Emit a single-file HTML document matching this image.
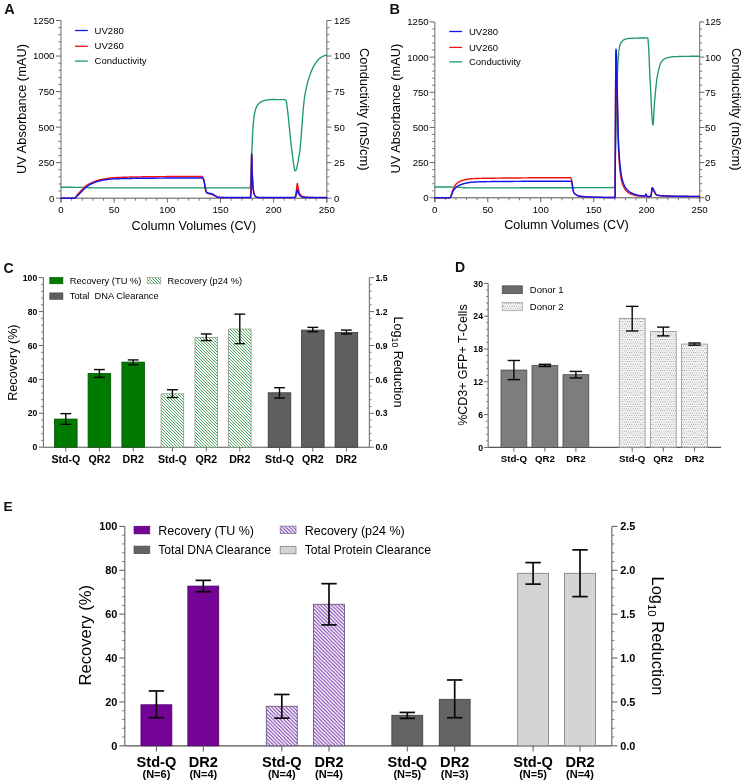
<!DOCTYPE html>
<html><head><meta charset="utf-8"><style>
html,body{margin:0;padding:0;background:#fff;}
svg{display:block;will-change:transform;}
text{font-family:"Liberation Sans", sans-serif;}
</style></head><body>
<svg width="743" height="782" viewBox="0 0 743 782">
<rect width="743" height="782" fill="#ffffff"/>
<defs>
<pattern id="hatchG" patternUnits="userSpaceOnUse" width="3" height="3">
<rect width="3" height="3" fill="#ffffff"/>
<path d="M-1,-1 L4,4 M-1,2 L1,4 M2,-1 L4,1" stroke="#4ea55e" stroke-width="1.0"/>
</pattern>
<pattern id="hatchP" patternUnits="userSpaceOnUse" width="3.6" height="3.6">
<rect width="3.6" height="3.6" fill="#ffffff"/>
<path d="M-1,-1 L4.6,4.6 M-1,2.6 L1,4.6 M2.6,-1 L4.6,1" stroke="#6c22aa" stroke-width="0.95"/>
</pattern>
<pattern id="dots" patternUnits="userSpaceOnUse" width="2.2" height="4.46">
<rect width="2.2" height="4.46" fill="#ffffff"/>
<circle cx="0.55" cy="0.55" r="0.55" fill="#6a6a6a"/>
<circle cx="1.65" cy="2.78" r="0.55" fill="#6a6a6a"/>
</pattern>
</defs>
<line x1="61" y1="20.5" x2="61" y2="202.6" stroke="#8c8c8c" stroke-width="1.3" stroke-linecap="butt"/>
<line x1="326.8" y1="20.5" x2="326.8" y2="202.6" stroke="#8c8c8c" stroke-width="1.3" stroke-linecap="butt"/>
<line x1="61" y1="198.2" x2="326.8" y2="198.2" stroke="#555" stroke-width="1" stroke-linecap="butt"/>
<line x1="56" y1="198.2" x2="61" y2="198.2" stroke="#666" stroke-width="1" stroke-linecap="butt"/>
<text x="54.4" y="201.65" font-size="9.65" text-anchor="end" fill="#000000">0</text>
<line x1="58.4" y1="191.09" x2="61" y2="191.09" stroke="#777" stroke-width="1" stroke-linecap="butt"/>
<line x1="58.4" y1="183.98" x2="61" y2="183.98" stroke="#777" stroke-width="1" stroke-linecap="butt"/>
<line x1="58.4" y1="176.88" x2="61" y2="176.88" stroke="#777" stroke-width="1" stroke-linecap="butt"/>
<line x1="58.4" y1="169.77" x2="61" y2="169.77" stroke="#777" stroke-width="1" stroke-linecap="butt"/>
<line x1="56" y1="162.66" x2="61" y2="162.66" stroke="#666" stroke-width="1" stroke-linecap="butt"/>
<text x="54.4" y="166.11" font-size="9.65" text-anchor="end" fill="#000000">250</text>
<line x1="58.4" y1="155.55" x2="61" y2="155.55" stroke="#777" stroke-width="1" stroke-linecap="butt"/>
<line x1="58.4" y1="148.44" x2="61" y2="148.44" stroke="#777" stroke-width="1" stroke-linecap="butt"/>
<line x1="58.4" y1="141.34" x2="61" y2="141.34" stroke="#777" stroke-width="1" stroke-linecap="butt"/>
<line x1="58.4" y1="134.23" x2="61" y2="134.23" stroke="#777" stroke-width="1" stroke-linecap="butt"/>
<line x1="56" y1="127.12" x2="61" y2="127.12" stroke="#666" stroke-width="1" stroke-linecap="butt"/>
<text x="54.4" y="130.57" font-size="9.65" text-anchor="end" fill="#000000">500</text>
<line x1="58.4" y1="120.01" x2="61" y2="120.01" stroke="#777" stroke-width="1" stroke-linecap="butt"/>
<line x1="58.4" y1="112.9" x2="61" y2="112.9" stroke="#777" stroke-width="1" stroke-linecap="butt"/>
<line x1="58.4" y1="105.8" x2="61" y2="105.8" stroke="#777" stroke-width="1" stroke-linecap="butt"/>
<line x1="58.4" y1="98.69" x2="61" y2="98.69" stroke="#777" stroke-width="1" stroke-linecap="butt"/>
<line x1="56" y1="91.58" x2="61" y2="91.58" stroke="#666" stroke-width="1" stroke-linecap="butt"/>
<text x="54.4" y="95.03" font-size="9.65" text-anchor="end" fill="#000000">750</text>
<line x1="58.4" y1="84.47" x2="61" y2="84.47" stroke="#777" stroke-width="1" stroke-linecap="butt"/>
<line x1="58.4" y1="77.36" x2="61" y2="77.36" stroke="#777" stroke-width="1" stroke-linecap="butt"/>
<line x1="58.4" y1="70.26" x2="61" y2="70.26" stroke="#777" stroke-width="1" stroke-linecap="butt"/>
<line x1="58.4" y1="63.15" x2="61" y2="63.15" stroke="#777" stroke-width="1" stroke-linecap="butt"/>
<line x1="56" y1="56.04" x2="61" y2="56.04" stroke="#666" stroke-width="1" stroke-linecap="butt"/>
<text x="54.4" y="59.49" font-size="9.65" text-anchor="end" fill="#000000">1000</text>
<line x1="58.4" y1="48.93" x2="61" y2="48.93" stroke="#777" stroke-width="1" stroke-linecap="butt"/>
<line x1="58.4" y1="41.82" x2="61" y2="41.82" stroke="#777" stroke-width="1" stroke-linecap="butt"/>
<line x1="58.4" y1="34.72" x2="61" y2="34.72" stroke="#777" stroke-width="1" stroke-linecap="butt"/>
<line x1="58.4" y1="27.61" x2="61" y2="27.61" stroke="#777" stroke-width="1" stroke-linecap="butt"/>
<line x1="56" y1="20.5" x2="61" y2="20.5" stroke="#666" stroke-width="1" stroke-linecap="butt"/>
<text x="54.4" y="23.95" font-size="9.65" text-anchor="end" fill="#000000">1250</text>
<line x1="326.8" y1="198.2" x2="331.5" y2="198.2" stroke="#666" stroke-width="1" stroke-linecap="butt"/>
<text x="334.1" y="201.65" font-size="9.65" text-anchor="start" fill="#000000">0</text>
<line x1="326.8" y1="191.09" x2="329.4" y2="191.09" stroke="#777" stroke-width="1" stroke-linecap="butt"/>
<line x1="326.8" y1="183.98" x2="329.4" y2="183.98" stroke="#777" stroke-width="1" stroke-linecap="butt"/>
<line x1="326.8" y1="176.88" x2="329.4" y2="176.88" stroke="#777" stroke-width="1" stroke-linecap="butt"/>
<line x1="326.8" y1="169.77" x2="329.4" y2="169.77" stroke="#777" stroke-width="1" stroke-linecap="butt"/>
<line x1="326.8" y1="162.66" x2="331.5" y2="162.66" stroke="#666" stroke-width="1" stroke-linecap="butt"/>
<text x="334.1" y="166.11" font-size="9.65" text-anchor="start" fill="#000000">25</text>
<line x1="326.8" y1="155.55" x2="329.4" y2="155.55" stroke="#777" stroke-width="1" stroke-linecap="butt"/>
<line x1="326.8" y1="148.44" x2="329.4" y2="148.44" stroke="#777" stroke-width="1" stroke-linecap="butt"/>
<line x1="326.8" y1="141.34" x2="329.4" y2="141.34" stroke="#777" stroke-width="1" stroke-linecap="butt"/>
<line x1="326.8" y1="134.23" x2="329.4" y2="134.23" stroke="#777" stroke-width="1" stroke-linecap="butt"/>
<line x1="326.8" y1="127.12" x2="331.5" y2="127.12" stroke="#666" stroke-width="1" stroke-linecap="butt"/>
<text x="334.1" y="130.57" font-size="9.65" text-anchor="start" fill="#000000">50</text>
<line x1="326.8" y1="120.01" x2="329.4" y2="120.01" stroke="#777" stroke-width="1" stroke-linecap="butt"/>
<line x1="326.8" y1="112.9" x2="329.4" y2="112.9" stroke="#777" stroke-width="1" stroke-linecap="butt"/>
<line x1="326.8" y1="105.8" x2="329.4" y2="105.8" stroke="#777" stroke-width="1" stroke-linecap="butt"/>
<line x1="326.8" y1="98.69" x2="329.4" y2="98.69" stroke="#777" stroke-width="1" stroke-linecap="butt"/>
<line x1="326.8" y1="91.58" x2="331.5" y2="91.58" stroke="#666" stroke-width="1" stroke-linecap="butt"/>
<text x="334.1" y="95.03" font-size="9.65" text-anchor="start" fill="#000000">75</text>
<line x1="326.8" y1="84.47" x2="329.4" y2="84.47" stroke="#777" stroke-width="1" stroke-linecap="butt"/>
<line x1="326.8" y1="77.36" x2="329.4" y2="77.36" stroke="#777" stroke-width="1" stroke-linecap="butt"/>
<line x1="326.8" y1="70.26" x2="329.4" y2="70.26" stroke="#777" stroke-width="1" stroke-linecap="butt"/>
<line x1="326.8" y1="63.15" x2="329.4" y2="63.15" stroke="#777" stroke-width="1" stroke-linecap="butt"/>
<line x1="326.8" y1="56.04" x2="331.5" y2="56.04" stroke="#666" stroke-width="1" stroke-linecap="butt"/>
<text x="334.1" y="59.49" font-size="9.65" text-anchor="start" fill="#000000">100</text>
<line x1="326.8" y1="48.93" x2="329.4" y2="48.93" stroke="#777" stroke-width="1" stroke-linecap="butt"/>
<line x1="326.8" y1="41.82" x2="329.4" y2="41.82" stroke="#777" stroke-width="1" stroke-linecap="butt"/>
<line x1="326.8" y1="34.72" x2="329.4" y2="34.72" stroke="#777" stroke-width="1" stroke-linecap="butt"/>
<line x1="326.8" y1="27.61" x2="329.4" y2="27.61" stroke="#777" stroke-width="1" stroke-linecap="butt"/>
<line x1="326.8" y1="20.5" x2="331.5" y2="20.5" stroke="#666" stroke-width="1" stroke-linecap="butt"/>
<text x="334.1" y="23.95" font-size="9.65" text-anchor="start" fill="#000000">125</text>
<line x1="61" y1="198.2" x2="61" y2="202.6" stroke="#666" stroke-width="1" stroke-linecap="butt"/>
<text x="61" y="213.2" font-size="9.65" text-anchor="middle" fill="#000000">0</text>
<line x1="71.63" y1="198.2" x2="71.63" y2="200.7" stroke="#777" stroke-width="1" stroke-linecap="butt"/>
<line x1="82.26" y1="198.2" x2="82.26" y2="200.7" stroke="#777" stroke-width="1" stroke-linecap="butt"/>
<line x1="92.9" y1="198.2" x2="92.9" y2="200.7" stroke="#777" stroke-width="1" stroke-linecap="butt"/>
<line x1="103.53" y1="198.2" x2="103.53" y2="200.7" stroke="#777" stroke-width="1" stroke-linecap="butt"/>
<line x1="114.16" y1="198.2" x2="114.16" y2="202.6" stroke="#666" stroke-width="1" stroke-linecap="butt"/>
<text x="114.16" y="213.2" font-size="9.65" text-anchor="middle" fill="#000000">50</text>
<line x1="124.79" y1="198.2" x2="124.79" y2="200.7" stroke="#777" stroke-width="1" stroke-linecap="butt"/>
<line x1="135.42" y1="198.2" x2="135.42" y2="200.7" stroke="#777" stroke-width="1" stroke-linecap="butt"/>
<line x1="146.06" y1="198.2" x2="146.06" y2="200.7" stroke="#777" stroke-width="1" stroke-linecap="butt"/>
<line x1="156.69" y1="198.2" x2="156.69" y2="200.7" stroke="#777" stroke-width="1" stroke-linecap="butt"/>
<line x1="167.32" y1="198.2" x2="167.32" y2="202.6" stroke="#666" stroke-width="1" stroke-linecap="butt"/>
<text x="167.32" y="213.2" font-size="9.65" text-anchor="middle" fill="#000000">100</text>
<line x1="177.95" y1="198.2" x2="177.95" y2="200.7" stroke="#777" stroke-width="1" stroke-linecap="butt"/>
<line x1="188.58" y1="198.2" x2="188.58" y2="200.7" stroke="#777" stroke-width="1" stroke-linecap="butt"/>
<line x1="199.22" y1="198.2" x2="199.22" y2="200.7" stroke="#777" stroke-width="1" stroke-linecap="butt"/>
<line x1="209.85" y1="198.2" x2="209.85" y2="200.7" stroke="#777" stroke-width="1" stroke-linecap="butt"/>
<line x1="220.48" y1="198.2" x2="220.48" y2="202.6" stroke="#666" stroke-width="1" stroke-linecap="butt"/>
<text x="220.48" y="213.2" font-size="9.65" text-anchor="middle" fill="#000000">150</text>
<line x1="231.11" y1="198.2" x2="231.11" y2="200.7" stroke="#777" stroke-width="1" stroke-linecap="butt"/>
<line x1="241.74" y1="198.2" x2="241.74" y2="200.7" stroke="#777" stroke-width="1" stroke-linecap="butt"/>
<line x1="252.38" y1="198.2" x2="252.38" y2="200.7" stroke="#777" stroke-width="1" stroke-linecap="butt"/>
<line x1="263.01" y1="198.2" x2="263.01" y2="200.7" stroke="#777" stroke-width="1" stroke-linecap="butt"/>
<line x1="273.64" y1="198.2" x2="273.64" y2="202.6" stroke="#666" stroke-width="1" stroke-linecap="butt"/>
<text x="273.64" y="213.2" font-size="9.65" text-anchor="middle" fill="#000000">200</text>
<line x1="284.27" y1="198.2" x2="284.27" y2="200.7" stroke="#777" stroke-width="1" stroke-linecap="butt"/>
<line x1="294.9" y1="198.2" x2="294.9" y2="200.7" stroke="#777" stroke-width="1" stroke-linecap="butt"/>
<line x1="305.54" y1="198.2" x2="305.54" y2="200.7" stroke="#777" stroke-width="1" stroke-linecap="butt"/>
<line x1="316.17" y1="198.2" x2="316.17" y2="200.7" stroke="#777" stroke-width="1" stroke-linecap="butt"/>
<line x1="326.8" y1="198.2" x2="326.8" y2="202.6" stroke="#666" stroke-width="1" stroke-linecap="butt"/>
<text x="326.8" y="213.2" font-size="9.65" text-anchor="middle" fill="#000000">250</text>
<polyline points="61,187.25 61.27,187.25 61.53,187.25 61.8,187.25 62.06,187.25 62.33,187.25 62.59,187.25 62.86,187.25 63.13,187.26 63.39,187.26 63.66,187.26 63.92,187.26 64.19,187.26 64.46,187.26 64.72,187.26 64.99,187.26 65.25,187.26 65.52,187.26 65.78,187.26 66.05,187.26 66.32,187.26 66.58,187.26 66.85,187.27 67.11,187.27 67.38,187.27 67.64,187.27 67.91,187.27 68.18,187.27 68.44,187.27 68.71,187.27 68.97,187.28 69.24,187.28 69.51,187.28 69.77,187.28 70.04,187.28 70.3,187.28 70.57,187.28 70.83,187.29 71.1,187.29 71.37,187.29 71.63,187.29 71.9,187.29 72.16,187.3 72.43,187.3 72.7,187.3 72.96,187.3 73.23,187.3 73.49,187.31 73.76,187.31 74.02,187.31 74.29,187.31 74.56,187.31 74.82,187.32 75.09,187.32 75.35,187.32 75.62,187.32 75.88,187.33 76.15,187.33 76.42,187.33 76.68,187.33 76.95,187.34 77.21,187.34 77.48,187.34 77.75,187.34 78.01,187.35 78.28,187.35 78.54,187.35 78.81,187.36 79.07,187.36 79.34,187.36 79.61,187.36 79.87,187.37 80.14,187.37 80.4,187.37 80.67,187.38 80.94,187.38 81.2,187.38 81.47,187.39 81.73,187.39 82,187.39 82.26,187.4 82.53,187.4 82.8,187.4 83.06,187.41 83.33,187.42 83.59,187.43 83.86,187.44 84.12,187.45 84.39,187.46 84.66,187.47 84.92,187.48 85.19,187.49 85.45,187.51 85.72,187.52 85.99,187.54 86.25,187.55 86.52,187.57 86.78,187.58 87.05,187.6 87.31,187.61 87.58,187.63 87.85,187.64 88.11,187.66 88.38,187.67 88.64,187.68 88.91,187.7 89.17,187.71 89.44,187.73 89.71,187.74 89.97,187.75 90.24,187.76 90.5,187.77 90.77,187.78 91.04,187.79 91.3,187.8 91.57,187.81 91.83,187.81 92.1,187.82 92.36,187.82 92.63,187.82 92.9,187.82 93.16,187.82 93.43,187.82 93.69,187.82 93.96,187.82 94.22,187.82 94.49,187.82 94.76,187.82 95.02,187.82 95.29,187.82 95.55,187.82 95.82,187.82 96.09,187.82 96.35,187.82 96.62,187.82 96.88,187.82 97.15,187.82 97.41,187.82 97.68,187.82 97.95,187.82 98.21,187.82 98.48,187.82 98.74,187.82 99.01,187.82 99.28,187.82 99.54,187.82 99.81,187.82 100.07,187.82 100.34,187.82 100.6,187.82 100.87,187.82 101.14,187.82 101.4,187.82 101.67,187.82 101.93,187.82 102.2,187.82 102.46,187.82 102.73,187.82 103,187.82 103.26,187.82 103.53,187.82 103.79,187.82 104.06,187.82 104.33,187.82 104.59,187.82 104.86,187.82 105.12,187.82 105.39,187.82 105.65,187.82 105.92,187.82 106.19,187.82 106.45,187.82 106.72,187.82 106.98,187.82 107.25,187.82 107.52,187.82 107.78,187.82 108.05,187.82 108.31,187.82 108.58,187.82 108.84,187.82 109.11,187.82 109.38,187.82 109.64,187.82 109.91,187.82 110.17,187.82 110.44,187.82 110.7,187.82 110.97,187.82 111.24,187.82 111.5,187.82 111.77,187.82 112.03,187.82 112.3,187.82 112.57,187.82 112.83,187.82 113.1,187.82 113.36,187.82 113.63,187.82 113.89,187.82 114.16,187.82 114.43,187.82 114.69,187.82 114.96,187.82 115.22,187.82 115.49,187.82 115.75,187.82 116.02,187.82 116.29,187.82 116.55,187.82 116.82,187.82 117.08,187.82 117.35,187.82 117.62,187.82 117.88,187.82 118.15,187.82 118.41,187.82 118.68,187.82 118.94,187.82 119.21,187.82 119.48,187.82 119.74,187.82 120.01,187.82 120.27,187.82 120.54,187.82 120.81,187.82 121.07,187.82 121.34,187.82 121.6,187.82 121.87,187.82 122.13,187.82 122.4,187.82 122.67,187.82 122.93,187.82 123.2,187.82 123.46,187.82 123.73,187.82 123.99,187.82 124.26,187.82 124.53,187.82 124.79,187.82 125.06,187.82 125.32,187.82 125.59,187.82 125.86,187.82 126.12,187.82 126.39,187.82 126.65,187.82 126.92,187.82 127.18,187.82 127.45,187.82 127.72,187.82 127.98,187.82 128.25,187.82 128.51,187.82 128.78,187.82 129.04,187.82 129.31,187.82 129.58,187.82 129.84,187.82 130.11,187.82 130.37,187.82 130.64,187.82 130.91,187.82 131.17,187.82 131.44,187.82 131.7,187.82 131.97,187.82 132.23,187.82 132.5,187.82 132.77,187.82 133.03,187.82 133.3,187.82 133.56,187.82 133.83,187.82 134.1,187.82 134.36,187.82 134.63,187.82 134.89,187.82 135.16,187.82 135.42,187.82 135.69,187.82 135.96,187.82 136.22,187.82 136.49,187.82 136.75,187.82 137.02,187.82 137.28,187.82 137.55,187.82 137.82,187.82 138.08,187.82 138.35,187.82 138.61,187.82 138.88,187.82 139.15,187.82 139.41,187.82 139.68,187.82 139.94,187.82 140.21,187.82 140.47,187.82 140.74,187.82 141.01,187.82 141.27,187.82 141.54,187.82 141.8,187.82 142.07,187.82 142.33,187.82 142.6,187.82 142.87,187.82 143.13,187.82 143.4,187.82 143.66,187.82 143.93,187.82 144.2,187.82 144.46,187.82 144.73,187.82 144.99,187.82 145.26,187.82 145.52,187.82 145.79,187.82 146.06,187.82 146.32,187.82 146.59,187.82 146.85,187.82 147.12,187.82 147.38,187.82 147.65,187.82 147.92,187.82 148.18,187.82 148.45,187.82 148.71,187.82 148.98,187.82 149.25,187.82 149.51,187.82 149.78,187.82 150.04,187.82 150.31,187.82 150.57,187.82 150.84,187.82 151.11,187.82 151.37,187.82 151.64,187.82 151.9,187.82 152.17,187.82 152.44,187.82 152.7,187.82 152.97,187.82 153.23,187.82 153.5,187.82 153.76,187.82 154.03,187.82 154.3,187.82 154.56,187.82 154.83,187.82 155.09,187.82 155.36,187.82 155.62,187.82 155.89,187.82 156.16,187.82 156.42,187.82 156.69,187.82 156.95,187.82 157.22,187.82 157.49,187.82 157.75,187.82 158.02,187.82 158.28,187.82 158.55,187.82 158.81,187.82 159.08,187.82 159.35,187.82 159.61,187.82 159.88,187.82 160.14,187.82 160.41,187.82 160.68,187.82 160.94,187.82 161.21,187.82 161.47,187.82 161.74,187.82 162,187.82 162.27,187.82 162.54,187.82 162.8,187.82 163.07,187.82 163.33,187.82 163.6,187.82 163.86,187.82 164.13,187.82 164.4,187.82 164.66,187.82 164.93,187.82 165.19,187.82 165.46,187.82 165.73,187.82 165.99,187.82 166.26,187.82 166.52,187.82 166.79,187.82 167.05,187.82 167.32,187.82 167.59,187.82 167.85,187.82 168.12,187.82 168.38,187.82 168.65,187.82 168.91,187.82 169.18,187.82 169.45,187.82 169.71,187.82 169.98,187.82 170.24,187.82 170.51,187.82 170.78,187.82 171.04,187.82 171.31,187.82 171.57,187.82 171.84,187.82 172.1,187.82 172.37,187.82 172.64,187.82 172.9,187.82 173.17,187.82 173.43,187.82 173.7,187.82 173.97,187.82 174.23,187.82 174.5,187.82 174.76,187.82 175.03,187.82 175.29,187.82 175.56,187.82 175.83,187.82 176.09,187.82 176.36,187.82 176.62,187.82 176.89,187.82 177.15,187.82 177.42,187.82 177.69,187.82 177.95,187.82 178.22,187.82 178.48,187.82 178.75,187.82 179.02,187.82 179.28,187.82 179.55,187.82 179.81,187.82 180.08,187.82 180.34,187.82 180.61,187.82 180.88,187.82 181.14,187.82 181.41,187.82 181.67,187.82 181.94,187.82 182.2,187.82 182.47,187.82 182.74,187.82 183,187.82 183.27,187.82 183.53,187.82 183.8,187.82 184.07,187.82 184.33,187.82 184.6,187.82 184.86,187.82 185.13,187.82 185.39,187.82 185.66,187.82 185.93,187.82 186.19,187.82 186.46,187.82 186.72,187.82 186.99,187.82 187.26,187.82 187.52,187.82 187.79,187.82 188.05,187.82 188.32,187.82 188.58,187.82 188.85,187.82 189.12,187.82 189.38,187.82 189.65,187.82 189.91,187.82 190.18,187.82 190.44,187.82 190.71,187.82 190.98,187.82 191.24,187.82 191.51,187.82 191.77,187.82 192.04,187.82 192.31,187.82 192.57,187.82 192.84,187.82 193.1,187.82 193.37,187.82 193.63,187.82 193.9,187.82 194.17,187.82 194.43,187.82 194.7,187.82 194.96,187.82 195.23,187.82 195.49,187.82 195.76,187.82 196.03,187.82 196.29,187.82 196.56,187.82 196.82,187.82 197.09,187.82 197.36,187.82 197.62,187.82 197.89,187.82 198.15,187.82 198.42,187.82 198.68,187.82 198.95,187.82 199.22,187.82 199.48,187.82 199.75,187.82 200.01,187.82 200.28,187.82 200.55,187.82 200.81,187.82 201.08,187.82 201.34,187.82 201.61,187.82 201.87,187.82 202.14,187.82 202.41,187.82 202.67,187.82 202.94,187.82 203.2,187.82 203.47,187.82 203.73,187.82 204,187.82 204.27,187.82 204.53,187.82 204.8,187.82 205.06,187.82 205.33,187.82 205.6,187.82 205.86,187.82 206.13,187.82 206.39,187.82 206.66,187.82 206.92,187.82 207.19,187.82 207.46,187.82 207.72,187.82 207.99,187.82 208.25,187.82 208.52,187.82 208.78,187.82 209.05,187.82 209.32,187.82 209.58,187.82 209.85,187.82 210.11,187.82 210.38,187.82 210.65,187.82 210.91,187.82 211.18,187.82 211.44,187.82 211.71,187.82 211.97,187.82 212.24,187.82 212.51,187.82 212.77,187.82 213.04,187.82 213.3,187.82 213.57,187.82 213.84,187.82 214.1,187.82 214.37,187.82 214.63,187.82 214.9,187.82 215.16,187.82 215.43,187.82 215.7,187.82 215.96,187.82 216.23,187.82 216.49,187.82 216.76,187.82 217.02,187.82 217.29,187.82 217.56,187.82 217.82,187.82 218.09,187.82 218.35,187.82 218.62,187.82 218.89,187.82 219.15,187.82 219.42,187.82 219.68,187.82 219.95,187.82 220.21,187.82 220.48,187.82 220.75,187.82 221.01,187.82 221.28,187.82 221.54,187.82 221.81,187.82 222.07,187.82 222.34,187.82 222.61,187.82 222.87,187.82 223.14,187.82 223.4,187.82 223.67,187.82 223.94,187.82 224.2,187.82 224.47,187.82 224.73,187.82 225,187.82 225.26,187.82 225.53,187.82 225.8,187.82 226.06,187.82 226.33,187.82 226.59,187.82 226.86,187.82 227.13,187.82 227.39,187.82 227.66,187.82 227.92,187.82 228.19,187.82 228.45,187.82 228.72,187.82 228.99,187.82 229.25,187.82 229.52,187.82 229.78,187.82 230.05,187.82 230.31,187.82 230.58,187.82 230.85,187.82 231.11,187.82 231.38,187.82 231.64,187.82 231.91,187.82 232.18,187.82 232.44,187.82 232.71,187.82 232.97,187.82 233.24,187.82 233.5,187.82 233.77,187.82 234.04,187.82 234.3,187.82 234.57,187.82 234.83,187.82 235.1,187.82 235.36,187.82 235.63,187.82 235.9,187.82 236.16,187.82 236.43,187.82 236.69,187.82 236.96,187.82 237.23,187.82 237.49,187.82 237.76,187.82 238.02,187.82 238.29,187.82 238.55,187.82 238.82,187.82 239.09,187.82 239.35,187.82 239.62,187.82 239.88,187.82 240.15,187.82 240.42,187.82 240.68,187.82 240.95,187.82 241.21,187.82 241.48,187.82 241.74,187.82 242.01,187.82 242.28,187.82 242.54,187.82 242.81,187.82 243.07,187.82 243.34,187.82 243.6,187.82 243.87,187.82 244.14,187.82 244.4,187.82 244.67,187.82 244.93,187.82 245.2,187.82 245.47,187.82 245.73,187.82 246,187.82 246.26,187.82 246.53,187.82 246.79,187.82 247.06,187.82 247.33,187.82 247.59,187.82 247.86,187.82 248.12,187.82 248.39,187.82 248.65,187.82 248.92,187.82 249.19,187.82 249.45,187.82 249.72,187.82 249.98,187.82 250.04,187.82 250.25,187.07 250.52,184.53 250.78,181.14 251.05,175.82 251.31,167.93 251.58,159.13 251.84,151.08 251.95,148.44 252.11,144.83 252.38,138.94 252.64,133.45 252.91,128.67 253.17,124.89 253.23,124.28 253.44,122.04 253.71,119.53 253.97,117.35 254.24,115.48 254.5,113.92 254.72,112.9 254.77,112.68 255.03,111.58 255.3,110.55 255.57,109.6 255.83,108.72 256.1,107.92 256.36,107.2 256.63,106.56 256.89,106.01 257.16,105.54 257.43,105.15 257.48,105.09 257.69,104.83 257.96,104.52 258.22,104.23 258.49,103.95 258.76,103.68 259.02,103.43 259.29,103.19 259.55,102.96 259.82,102.74 260.08,102.54 260.35,102.34 260.62,102.16 260.88,101.99 261.15,101.82 261.41,101.67 261.68,101.53 261.94,101.4 262.21,101.28 262.48,101.17 262.74,101.07 263.01,100.98 263.27,100.89 263.54,100.82 263.81,100.75 264.07,100.68 264.34,100.61 264.6,100.55 264.87,100.48 265.13,100.42 265.4,100.36 265.67,100.3 265.93,100.24 266.2,100.18 266.46,100.13 266.73,100.08 267,100.02 267.26,99.98 267.53,99.93 267.79,99.88 268.06,99.84 268.32,99.8 268.59,99.76 268.86,99.73 269.12,99.7 269.39,99.67 269.65,99.64 269.92,99.62 270.18,99.6 270.45,99.58 270.72,99.57 270.98,99.55 271.25,99.55 271.51,99.54 271.73,99.54 271.78,99.54 272.05,99.54 272.31,99.54 272.58,99.54 272.84,99.54 273.11,99.54 273.37,99.54 273.64,99.54 273.91,99.54 274.17,99.54 274.44,99.54 274.7,99.54 274.97,99.54 275.23,99.55 275.5,99.55 275.77,99.55 276.03,99.55 276.3,99.55 276.56,99.55 276.83,99.55 277.1,99.55 277.36,99.56 277.63,99.56 277.89,99.56 278.16,99.56 278.42,99.56 278.69,99.57 278.96,99.57 279.22,99.57 279.49,99.57 279.75,99.58 280.02,99.58 280.29,99.58 280.55,99.59 280.82,99.59 281.08,99.6 281.35,99.6 281.61,99.61 281.88,99.61 282.15,99.61 282.41,99.62 282.68,99.63 282.94,99.63 283.21,99.64 283.47,99.64 283.74,99.65 284.01,99.66 284.27,99.66 284.54,99.67 284.8,99.68 285.02,99.68 285.07,99.69 285.34,99.79 285.6,100 285.87,100.32 286.13,100.73 286.19,100.82 286.4,101.54 286.66,103.21 286.93,105.34 287.2,107.52 287.25,107.93 287.46,109.57 287.73,111.74 287.99,114.05 288.26,116.46 288.52,118.96 288.79,121.53 289.06,124.15 289.32,126.82 289.59,129.5 289.85,132.18 290.12,134.85 290.39,137.48 290.65,140.06 290.92,142.57 291.18,144.99 291.45,147.31 291.71,149.5 291.98,151.55 292.14,152.71 292.25,153.47 292.51,155.47 292.78,157.56 293.04,159.67 293.31,161.76 293.58,163.76 293.84,165.63 294.11,167.3 294.37,168.71 294.64,169.82 294.9,170.57 295.17,170.9 295.22,170.91 295.44,170.84 295.7,170.57 295.97,170.12 296.23,169.49 296.5,168.7 296.76,167.77 297.03,166.71 297.3,165.54 297.56,164.26 297.83,162.91 298.09,161.48 298.36,160 298.63,158.48 298.89,156.93 299.16,155.37 299.37,154.13 299.42,153.81 299.69,151.99 299.95,149.8 300.22,147.29 300.49,144.5 300.75,141.47 301.02,138.25 301.28,134.88 301.55,131.39 301.81,127.85 302.08,124.27 302.35,120.71 302.61,117.22 302.88,113.82 303.14,110.57 303.41,107.51 303.68,104.68 303.94,102.12 304.21,99.87 304.47,97.98 304.74,96.32 305,94.73 305.27,93.21 305.54,91.75 305.8,90.36 306.07,89.04 306.33,87.77 306.6,86.56 306.87,85.4 307.13,84.29 307.4,83.23 307.66,82.22 307.93,81.26 308.19,80.33 308.46,79.44 308.62,78.93 308.73,78.59 308.99,77.76 309.26,76.95 309.52,76.16 309.79,75.38 310.05,74.63 310.32,73.89 310.59,73.18 310.85,72.48 311.12,71.81 311.38,71.15 311.65,70.51 311.92,69.89 312.18,69.29 312.45,68.71 312.71,68.14 312.98,67.6 313.24,67.07 313.51,66.57 313.78,66.08 314.04,65.61 314.31,65.17 314.57,64.74 314.68,64.57 314.84,64.32 315.1,63.92 315.37,63.52 315.64,63.12 315.9,62.73 316.17,62.35 316.43,61.98 316.7,61.62 316.97,61.26 317.23,60.92 317.5,60.58 317.76,60.26 318.03,59.95 318.29,59.65 318.56,59.36 318.83,59.08 319.09,58.82 319.36,58.57 319.62,58.34 319.89,58.12 320.16,57.91 320.42,57.73 320.69,57.56 320.85,57.46 320.95,57.4 321.22,57.25 321.48,57.1 321.75,56.95 322.02,56.8 322.28,56.66 322.55,56.52 322.81,56.38 323.08,56.24 323.34,56.12 323.61,55.99 323.88,55.88 324.14,55.77 324.41,55.67 324.67,55.57 324.94,55.49 325.21,55.41 325.47,55.35 325.74,55.29 326,55.25 326.27,55.21 326.53,55.19 326.8,55.19" fill="none" stroke="#1e9a6c" stroke-width="1.35" stroke-linejoin="round" stroke-linecap="round"/>
<polyline points="61,198.2 61.27,198.2 61.53,198.2 61.8,198.2 62.06,198.2 62.33,198.2 62.59,198.2 62.86,198.2 63.13,198.2 63.39,198.2 63.66,198.2 63.92,198.2 64.19,198.2 64.46,198.2 64.72,198.2 64.99,198.2 65.25,198.2 65.52,198.2 65.78,198.2 66.05,198.2 66.32,198.2 66.58,198.2 66.85,198.2 67.11,198.2 67.38,198.2 67.64,198.2 67.91,198.2 68.18,198.2 68.44,198.2 68.71,198.2 68.97,198.2 69.24,198.2 69.51,198.2 69.77,198.2 70.04,198.2 70.3,198.2 70.57,198.2 70.83,198.2 71.1,198.2 71.37,198.2 71.63,198.2 71.9,198.2 72.16,198.2 72.43,198.2 72.7,198.2 72.96,198.2 73.23,198.2 73.49,198.2 73.76,198.2 74.02,198.16 74.29,198.05 74.56,197.9 74.82,197.72 75.09,197.53 75.14,197.49 75.35,197.32 75.62,197.05 75.88,196.74 76.15,196.4 76.42,196.04 76.68,195.68 76.95,195.32 77.21,194.99 77.27,194.93 77.48,194.68 77.75,194.38 78.01,194.07 78.28,193.77 78.54,193.47 78.81,193.17 79.07,192.87 79.34,192.57 79.61,192.27 79.87,191.98 80.14,191.69 80.4,191.41 80.67,191.12 80.94,190.84 81.2,190.57 81.47,190.29 81.52,190.24 81.73,190.02 82,189.75 82.26,189.47 82.53,189.2 82.8,188.93 83.06,188.65 83.33,188.38 83.59,188.11 83.86,187.84 84.12,187.58 84.39,187.33 84.66,187.08 84.92,186.83 85.19,186.59 85.45,186.37 85.72,186.15 85.99,185.94 86.25,185.74 86.52,185.55 86.78,185.37 87.05,185.19 87.31,185.02 87.58,184.86 87.85,184.7 88.11,184.54 88.38,184.39 88.64,184.24 88.91,184.09 89.17,183.95 89.44,183.81 89.71,183.67 89.97,183.54 90.24,183.41 90.5,183.28 90.77,183.15 91.04,183.03 91.3,182.9 91.57,182.78 91.83,182.66 92.1,182.54 92.36,182.42 92.63,182.3 92.9,182.19 93.16,182.07 93.43,181.95 93.69,181.84 93.96,181.73 94.22,181.62 94.49,181.51 94.76,181.41 95.02,181.3 95.29,181.2 95.55,181.1 95.82,181.01 96.09,180.91 96.35,180.82 96.62,180.74 96.88,180.65 97.15,180.57 97.41,180.49 97.68,180.42 97.95,180.34 98.21,180.27 98.48,180.19 98.74,180.12 99.01,180.05 99.28,179.98 99.54,179.91 99.81,179.85 100.07,179.78 100.34,179.72 100.6,179.66 100.87,179.6 101.14,179.54 101.4,179.48 101.67,179.43 101.93,179.37 102.2,179.32 102.46,179.27 102.73,179.22 103,179.17 103.1,179.15 103.26,179.12 103.53,179.08 103.79,179.03 104.06,178.98 104.33,178.94 104.59,178.89 104.86,178.85 105.12,178.8 105.39,178.76 105.65,178.71 105.92,178.67 106.19,178.63 106.45,178.59 106.72,178.54 106.98,178.5 107.25,178.46 107.52,178.42 107.78,178.38 108.05,178.34 108.31,178.3 108.58,178.27 108.84,178.23 109.11,178.19 109.38,178.16 109.64,178.13 109.91,178.09 110.17,178.06 110.44,178.03 110.7,178 110.97,177.97 111.24,177.94 111.5,177.91 111.77,177.89 112.03,177.86 112.3,177.84 112.57,177.82 112.83,177.8 113.1,177.78 113.36,177.76 113.63,177.74 113.84,177.73 113.89,177.73 114.16,177.71 114.43,177.7 114.69,177.68 114.96,177.67 115.22,177.65 115.49,177.64 115.75,177.62 116.02,177.61 116.29,177.6 116.55,177.58 116.82,177.57 117.08,177.55 117.35,177.54 117.62,177.53 117.88,177.52 118.15,177.5 118.41,177.49 118.68,177.48 118.94,177.47 119.21,177.45 119.48,177.44 119.74,177.43 120.01,177.42 120.27,177.41 120.54,177.4 120.81,177.38 121.07,177.37 121.34,177.36 121.6,177.35 121.87,177.34 122.13,177.33 122.4,177.32 122.67,177.31 122.93,177.3 123.2,177.29 123.46,177.28 123.73,177.27 123.99,177.26 124.26,177.25 124.53,177.24 124.79,177.23 125.06,177.22 125.32,177.21 125.59,177.2 125.86,177.2 126.12,177.19 126.39,177.18 126.65,177.17 126.92,177.16 127.18,177.15 127.45,177.15 127.72,177.14 127.98,177.13 128.25,177.12 128.51,177.12 128.78,177.11 129.04,177.1 129.31,177.09 129.58,177.09 129.84,177.08 130.11,177.07 130.37,177.06 130.64,177.06 130.91,177.05 131.17,177.04 131.44,177.04 131.7,177.03 131.97,177.03 132.23,177.02 132.5,177.01 132.77,177.01 133.03,177 133.3,177 133.56,176.99 133.83,176.98 134.1,176.98 134.36,176.97 134.63,176.97 134.89,176.96 135.16,176.96 135.42,176.95 135.69,176.95 135.96,176.94 136.22,176.94 136.49,176.93 136.75,176.93 137.02,176.92 137.28,176.92 137.55,176.91 137.82,176.91 138.08,176.9 138.35,176.9 138.61,176.89 138.88,176.89 139.15,176.88 139.41,176.88 139.68,176.88 139.94,176.87 140.21,176.87 140.47,176.86 140.74,176.86 141.01,176.86 141.27,176.85 141.54,176.85 141.8,176.84 142.07,176.84 142.33,176.84 142.6,176.83 142.87,176.83 143.13,176.82 143.4,176.82 143.66,176.82 143.93,176.81 144.2,176.81 144.46,176.81 144.73,176.8 144.99,176.8 145.26,176.8 145.52,176.79 145.79,176.79 146.06,176.78 146.32,176.78 146.59,176.78 146.85,176.77 147.12,176.77 147.38,176.77 147.65,176.76 147.92,176.76 148.18,176.76 148.45,176.76 148.71,176.75 148.98,176.75 149.25,176.75 149.51,176.74 149.78,176.74 150.04,176.74 150.31,176.73 150.57,176.73 150.84,176.73 151.11,176.72 151.37,176.72 151.64,176.72 151.9,176.72 152.17,176.71 152.44,176.71 152.7,176.71 152.97,176.71 153.23,176.7 153.5,176.7 153.76,176.7 154.03,176.69 154.3,176.69 154.56,176.69 154.83,176.69 155.09,176.68 155.36,176.68 155.62,176.68 155.89,176.68 156.16,176.67 156.42,176.67 156.69,176.67 156.95,176.67 157.22,176.67 157.49,176.66 157.75,176.66 158.02,176.66 158.28,176.66 158.55,176.65 158.81,176.65 159.08,176.65 159.35,176.65 159.61,176.65 159.88,176.64 160.14,176.64 160.41,176.64 160.68,176.64 160.94,176.63 161.21,176.63 161.47,176.63 161.74,176.63 162,176.63 162.27,176.62 162.54,176.62 162.8,176.62 163.07,176.62 163.33,176.62 163.6,176.62 163.86,176.61 164.13,176.61 164.4,176.61 164.66,176.61 164.93,176.61 165.19,176.6 165.46,176.6 165.73,176.6 165.99,176.6 166.26,176.6 166.52,176.6 166.79,176.59 167.05,176.59 167.32,176.59 167.59,176.59 167.85,176.59 168.12,176.59 168.38,176.59 168.65,176.58 168.91,176.58 169.18,176.58 169.45,176.58 169.71,176.58 169.98,176.58 170.24,176.57 170.51,176.57 170.78,176.57 171.04,176.57 171.31,176.57 171.57,176.57 171.84,176.56 172.1,176.56 172.37,176.56 172.64,176.56 172.9,176.56 173.17,176.56 173.43,176.56 173.7,176.55 173.97,176.55 174.23,176.55 174.5,176.55 174.76,176.55 175.03,176.55 175.29,176.54 175.56,176.54 175.83,176.54 176.09,176.54 176.36,176.54 176.62,176.54 176.89,176.54 177.15,176.53 177.42,176.53 177.69,176.53 177.95,176.53 178.22,176.53 178.48,176.53 178.75,176.53 179.02,176.52 179.28,176.52 179.55,176.52 179.81,176.52 180.08,176.52 180.34,176.52 180.61,176.52 180.88,176.51 181.14,176.51 181.41,176.51 181.67,176.51 181.94,176.51 182.2,176.51 182.47,176.51 182.74,176.5 183,176.5 183.27,176.5 183.53,176.5 183.8,176.5 184.07,176.5 184.33,176.5 184.6,176.5 184.86,176.49 185.13,176.49 185.39,176.49 185.66,176.49 185.93,176.49 186.19,176.49 186.46,176.49 186.72,176.49 186.99,176.48 187.26,176.48 187.52,176.48 187.79,176.48 188.05,176.48 188.32,176.48 188.58,176.48 188.85,176.48 189.12,176.48 189.38,176.48 189.65,176.47 189.91,176.47 190.18,176.47 190.44,176.47 190.71,176.47 190.98,176.47 191.24,176.47 191.51,176.47 191.77,176.47 192.04,176.47 192.31,176.47 192.57,176.46 192.84,176.46 193.1,176.46 193.37,176.46 193.63,176.46 193.9,176.46 194.17,176.46 194.43,176.46 194.7,176.46 194.96,176.46 195.23,176.46 195.49,176.46 195.76,176.46 196.03,176.46 196.29,176.46 196.56,176.45 196.82,176.45 197.09,176.45 197.36,176.45 197.62,176.45 197.89,176.45 198.15,176.45 198.42,176.45 198.68,176.45 198.95,176.45 199.22,176.45 199.48,176.45 199.75,176.45 200.01,176.45 200.28,176.45 200.55,176.45 200.81,176.45 201.08,176.45 201.34,176.45 201.61,176.45 201.87,176.45 202.14,176.45 202.19,176.45 202.41,176.55 202.67,176.92 202.94,177.5 203.2,178.21 203.47,178.98 203.58,179.29 203.73,179.81 204,180.92 204.27,182.21 204.53,183.6 204.74,184.69 204.8,184.97 205.06,186.51 205.33,188.11 205.6,189.51 205.7,189.95 205.86,190.54 206.13,191.46 206.39,192.2 206.66,192.66 206.92,192.92 207.19,193.13 207.46,193.31 207.72,193.45 207.99,193.56 208.25,193.65 208.52,193.72 208.78,193.79 209.05,193.84 209.32,193.88 209.58,193.92 209.85,193.96 210.11,194 210.38,194.04 210.65,194.08 210.91,194.13 211.18,194.18 211.34,194.22 211.44,194.25 211.71,194.33 211.97,194.41 212.24,194.51 212.51,194.62 212.77,194.73 213.04,194.84 213.25,194.93 213.3,194.95 213.57,195.07 213.84,195.2 214.1,195.34 214.37,195.48 214.63,195.62 214.9,195.76 215.16,195.9 215.43,196.04 215.48,196.07 215.7,196.18 215.96,196.33 216.23,196.48 216.49,196.63 216.76,196.78 217.02,196.9 217.29,197 217.5,197.06 217.56,197.07 217.82,197.13 218.09,197.18 218.35,197.22 218.62,197.26 218.89,197.29 219.15,197.32 219.42,197.35 219.68,197.37 219.95,197.4 220.21,197.42 220.48,197.44 220.75,197.46 221.01,197.48 221.28,197.5 221.54,197.51 221.81,197.53 222.07,197.54 222.34,197.55 222.61,197.56 222.87,197.57 223.14,197.58 223.4,197.59 223.67,197.59 223.94,197.6 224.2,197.61 224.47,197.62 224.73,197.62 225,197.63 225.26,197.63 225.53,197.63 225.8,197.63 226.06,197.63 226.33,197.63 226.59,197.63 226.86,197.63 227.13,197.63 227.39,197.63 227.66,197.63 227.92,197.63 228.19,197.63 228.45,197.63 228.72,197.63 228.99,197.63 229.25,197.63 229.52,197.63 229.78,197.63 230.05,197.63 230.31,197.63 230.58,197.63 230.85,197.63 231.11,197.63 231.38,197.63 231.64,197.63 231.91,197.63 232.18,197.63 232.44,197.63 232.71,197.63 232.97,197.63 233.24,197.63 233.5,197.63 233.77,197.63 234.04,197.63 234.3,197.63 234.57,197.63 234.83,197.63 235.1,197.63 235.36,197.63 235.63,197.63 235.9,197.63 236.16,197.63 236.43,197.63 236.69,197.63 236.96,197.63 237.23,197.63 237.49,197.63 237.76,197.63 238.02,197.63 238.29,197.63 238.55,197.63 238.82,197.63 239.09,197.63 239.35,197.63 239.62,197.63 239.88,197.63 240.15,197.63 240.42,197.63 240.68,197.63 240.95,197.63 241.21,197.63 241.48,197.63 241.74,197.63 242.01,197.63 242.28,197.63 242.54,197.63 242.81,197.63 243.07,197.63 243.34,197.63 243.6,197.63 243.87,197.63 244.14,197.63 244.4,197.63 244.67,197.63 244.93,197.63 245.2,197.63 245.47,197.63 245.73,197.63 246,197.63 246.26,197.63 246.53,197.63 246.79,197.63 247.06,197.63 247.33,197.63 247.59,197.63 247.86,197.63 248.12,197.63 248.39,197.63 248.65,197.63 248.92,197.63 249.19,197.63 249.45,197.63 249.72,197.63 249.98,197.63 250.25,197.63 250.52,195.88 250.78,191.45 250.99,186.83 251.05,185.18 251.31,169.01 251.58,155.38 251.63,154.84 251.84,158.37 252.11,167.79 252.27,172.61 252.38,175.05 252.64,180.93 252.91,185.57 253.01,186.83 253.17,188.29 253.44,190.35 253.71,191.96 253.97,193.15 254.08,193.51 254.24,193.99 254.5,194.72 254.77,195.34 255.03,195.85 255.3,196.24 255.57,196.49 255.83,196.67 256.1,196.82 256.36,196.95 256.63,197.06 256.89,197.15 257.16,197.23 257.43,197.3 257.69,197.35 257.96,197.39 258.22,197.44 258.49,197.48 258.76,197.51 259.02,197.55 259.29,197.58 259.55,197.6 259.82,197.62 260.08,197.63 260.35,197.63 260.62,197.63 260.88,197.63 261.15,197.63 261.41,197.63 261.68,197.63 261.94,197.63 262.21,197.63 262.48,197.63 262.74,197.63 263.01,197.63 263.27,197.63 263.54,197.63 263.81,197.63 264.07,197.63 264.34,197.63 264.6,197.63 264.87,197.63 265.13,197.63 265.4,197.63 265.67,197.63 265.93,197.63 266.2,197.63 266.46,197.63 266.73,197.63 267,197.63 267.26,197.63 267.53,197.63 267.79,197.63 268.06,197.63 268.32,197.63 268.59,197.63 268.86,197.63 269.12,197.63 269.39,197.63 269.65,197.63 269.92,197.63 270.18,197.63 270.45,197.63 270.72,197.63 270.98,197.63 271.25,197.63 271.51,197.63 271.78,197.63 272.05,197.63 272.31,197.63 272.58,197.63 272.84,197.63 273.11,197.63 273.37,197.63 273.64,197.63 273.91,197.63 274.17,197.63 274.44,197.63 274.7,197.63 274.97,197.63 275.23,197.63 275.5,197.63 275.77,197.63 276.03,197.63 276.3,197.63 276.56,197.63 276.83,197.63 277.1,197.63 277.36,197.63 277.63,197.63 277.89,197.63 278.16,197.63 278.42,197.63 278.69,197.63 278.96,197.63 279.22,197.63 279.49,197.63 279.75,197.63 280.02,197.63 280.29,197.63 280.55,197.63 280.82,197.63 281.08,197.63 281.35,197.63 281.61,197.63 281.88,197.63 282.15,197.63 282.41,197.63 282.68,197.63 282.94,197.63 283.21,197.63 283.47,197.63 283.74,197.63 284.01,197.63 284.27,197.63 284.54,197.63 284.8,197.63 285.07,197.63 285.34,197.63 285.6,197.63 285.87,197.63 286.13,197.63 286.4,197.63 286.66,197.63 286.93,197.63 287.2,197.63 287.46,197.63 287.73,197.63 287.99,197.63 288.26,197.63 288.52,197.63 288.79,197.63 289.06,197.63 289.32,197.63 289.59,197.63 289.85,197.63 290.12,197.63 290.39,197.63 290.65,197.63 290.92,197.63 291.18,197.63 291.45,197.63 291.71,197.63 291.98,197.63 292.25,197.63 292.51,197.63 292.78,197.63 293.04,197.63 293.31,197.63 293.58,197.63 293.84,197.63 294.11,197.63 294.16,197.63 294.37,197.58 294.64,197.4 294.9,197.09 295.17,196.69 295.44,196.21 295.7,195.23 295.97,193.58 296.23,191.6 296.5,189.67 296.76,187.38 297.03,184.89 297.3,183.46 297.35,183.42 297.56,184.02 297.83,185.79 298.09,187.54 298.36,188.89 298.63,190.21 298.89,191.37 299.16,192.23 299.42,192.86 299.69,193.42 299.95,193.93 300.22,194.38 300.49,194.78 300.75,195.12 301.02,195.4 301.28,195.64 301.55,195.85 301.81,196.04 302.08,196.21 302.35,196.36 302.61,196.5 302.88,196.61 303.14,196.71 303.41,196.78 303.68,196.84 303.94,196.89 304.21,196.94 304.47,196.99 304.74,197.04 305,197.08 305.27,197.12 305.54,197.15 305.8,197.18 306.07,197.21 306.33,197.24 306.6,197.27 306.87,197.29 307.13,197.31 307.4,197.33 307.66,197.35 307.93,197.36 308.19,197.38 308.46,197.39 308.73,197.41 308.99,197.42 309.26,197.43 309.52,197.44 309.79,197.45 310.05,197.46 310.32,197.47 310.59,197.48 310.85,197.49 311.12,197.5 311.38,197.51 311.65,197.52 311.92,197.52 312.18,197.53 312.45,197.54 312.71,197.55 312.98,197.56 313.24,197.57 313.51,197.58 313.78,197.59 314.04,197.61 314.31,197.62 314.57,197.62 314.84,197.63 315.1,197.63 315.37,197.63 315.64,197.63 315.9,197.63 316.17,197.63 316.43,197.63 316.7,197.63 316.97,197.63 317.23,197.63 317.5,197.63 317.76,197.63 318.03,197.63 318.29,197.63 318.56,197.63 318.83,197.63 319.09,197.63 319.36,197.63 319.62,197.63 319.89,197.63 320.16,197.63 320.42,197.63 320.69,197.63 320.95,197.63 321.22,197.63 321.48,197.63 321.75,197.63 322.02,197.63 322.28,197.63 322.55,197.63 322.81,197.63 323.08,197.63 323.34,197.63 323.61,197.63 323.88,197.63 324.14,197.63 324.41,197.63 324.67,197.63 324.94,197.63 325.21,197.63 325.47,197.63 325.74,197.63 326,197.63 326.27,197.63 326.53,197.63 326.8,197.63" fill="none" stroke="#ee1414" stroke-width="1.45" stroke-linejoin="round" stroke-linecap="round"/>
<polyline points="61,198.2 61.27,198.2 61.53,198.2 61.8,198.2 62.06,198.2 62.33,198.2 62.59,198.2 62.86,198.2 63.13,198.2 63.39,198.2 63.66,198.2 63.92,198.2 64.19,198.2 64.46,198.2 64.72,198.2 64.99,198.2 65.25,198.2 65.52,198.2 65.78,198.2 66.05,198.2 66.32,198.2 66.58,198.2 66.85,198.2 67.11,198.2 67.38,198.2 67.64,198.2 67.91,198.2 68.18,198.2 68.44,198.2 68.71,198.2 68.97,198.2 69.24,198.2 69.51,198.2 69.77,198.2 70.04,198.2 70.3,198.2 70.57,198.2 70.83,198.2 71.1,198.2 71.37,198.2 71.63,198.2 71.9,198.2 72.16,198.2 72.43,198.2 72.7,198.2 72.96,198.2 73.23,198.2 73.49,198.2 73.76,198.2 73.97,198.2 74.02,198.2 74.29,198.16 74.56,198.08 74.82,197.97 75.09,197.83 75.35,197.69 75.46,197.63 75.62,197.54 75.88,197.35 76.15,197.12 76.42,196.86 76.68,196.59 76.95,196.3 77.21,196.02 77.48,195.75 77.59,195.64 77.75,195.49 78.01,195.22 78.28,194.96 78.54,194.69 78.81,194.42 79.07,194.15 79.34,193.88 79.61,193.61 79.87,193.33 80.14,193.06 80.4,192.79 80.67,192.52 80.94,192.25 81.2,191.98 81.47,191.71 81.52,191.66 81.73,191.45 82,191.18 82.26,190.91 82.53,190.63 82.8,190.35 83.06,190.08 83.33,189.8 83.59,189.52 83.86,189.25 84.12,188.98 84.39,188.71 84.66,188.45 84.92,188.19 85.19,187.94 85.45,187.7 85.72,187.46 85.99,187.24 86.25,187.03 86.52,186.83 86.78,186.63 87.05,186.45 87.31,186.26 87.58,186.08 87.85,185.91 88.11,185.73 88.38,185.56 88.64,185.4 88.91,185.24 89.17,185.08 89.44,184.92 89.71,184.77 89.97,184.62 90.24,184.48 90.5,184.34 90.77,184.2 91.04,184.06 91.3,183.93 91.57,183.79 91.83,183.67 92.1,183.54 92.36,183.42 92.63,183.29 92.9,183.17 93.16,183.06 93.43,182.94 93.69,182.83 93.96,182.71 94.22,182.61 94.49,182.5 94.76,182.39 95.02,182.29 95.29,182.19 95.55,182.09 95.82,182 96.09,181.91 96.35,181.82 96.62,181.73 96.88,181.65 97.15,181.57 97.41,181.49 97.68,181.41 97.95,181.33 98.21,181.26 98.48,181.19 98.74,181.11 99.01,181.04 99.28,180.97 99.54,180.9 99.81,180.84 100.07,180.77 100.34,180.71 100.6,180.64 100.87,180.58 101.14,180.52 101.4,180.47 101.67,180.41 101.93,180.36 102.2,180.31 102.46,180.26 102.73,180.21 103,180.16 103.1,180.15 103.26,180.12 103.53,180.08 103.79,180.03 104.06,179.99 104.33,179.95 104.59,179.9 104.86,179.86 105.12,179.82 105.39,179.78 105.65,179.74 105.92,179.7 106.19,179.66 106.45,179.62 106.72,179.58 106.98,179.54 107.25,179.5 107.52,179.47 107.78,179.43 108.05,179.4 108.31,179.36 108.58,179.33 108.84,179.29 109.11,179.26 109.38,179.23 109.64,179.2 109.91,179.17 110.17,179.14 110.44,179.11 110.7,179.09 110.97,179.06 111.24,179.04 111.5,179.02 111.77,178.99 112.03,178.97 112.3,178.95 112.57,178.93 112.83,178.92 113.1,178.9 113.36,178.89 113.63,178.88 113.84,178.87 113.89,178.86 114.16,178.85 114.43,178.84 114.69,178.83 114.96,178.82 115.22,178.81 115.49,178.8 115.75,178.79 116.02,178.78 116.29,178.77 116.55,178.76 116.82,178.75 117.08,178.74 117.35,178.73 117.62,178.73 117.88,178.72 118.15,178.71 118.41,178.7 118.68,178.69 118.94,178.68 119.21,178.67 119.48,178.67 119.74,178.66 120.01,178.65 120.27,178.64 120.54,178.64 120.81,178.63 121.07,178.62 121.34,178.61 121.6,178.61 121.87,178.6 122.13,178.59 122.4,178.59 122.67,178.58 122.93,178.57 123.2,178.57 123.46,178.56 123.73,178.55 123.99,178.55 124.26,178.54 124.53,178.53 124.79,178.53 125.06,178.52 125.32,178.52 125.59,178.51 125.86,178.5 126.12,178.5 126.39,178.49 126.65,178.49 126.92,178.48 127.18,178.48 127.45,178.47 127.72,178.47 127.98,178.46 128.25,178.46 128.51,178.45 128.78,178.45 129.04,178.44 129.31,178.44 129.58,178.43 129.84,178.43 130.11,178.43 130.37,178.42 130.64,178.42 130.91,178.41 131.17,178.41 131.44,178.4 131.7,178.4 131.97,178.4 132.23,178.39 132.5,178.39 132.77,178.38 133.03,178.38 133.3,178.38 133.56,178.37 133.83,178.37 134.1,178.37 134.36,178.36 134.63,178.36 134.89,178.36 135.16,178.35 135.42,178.35 135.69,178.35 135.96,178.34 136.22,178.34 136.49,178.34 136.75,178.33 137.02,178.33 137.28,178.33 137.55,178.32 137.82,178.32 138.08,178.32 138.35,178.31 138.61,178.31 138.88,178.31 139.15,178.3 139.41,178.3 139.68,178.3 139.94,178.29 140.21,178.29 140.47,178.29 140.74,178.29 141.01,178.28 141.27,178.28 141.54,178.28 141.8,178.27 142.07,178.27 142.33,178.27 142.6,178.27 142.87,178.26 143.13,178.26 143.4,178.26 143.66,178.25 143.93,178.25 144.2,178.25 144.46,178.25 144.73,178.24 144.99,178.24 145.26,178.24 145.52,178.23 145.79,178.23 146.06,178.23 146.32,178.23 146.59,178.22 146.85,178.22 147.12,178.22 147.38,178.22 147.65,178.21 147.92,178.21 148.18,178.21 148.45,178.21 148.71,178.2 148.98,178.2 149.25,178.2 149.51,178.2 149.78,178.19 150.04,178.19 150.31,178.19 150.57,178.19 150.84,178.18 151.11,178.18 151.37,178.18 151.64,178.18 151.9,178.18 152.17,178.17 152.44,178.17 152.7,178.17 152.97,178.17 153.23,178.16 153.5,178.16 153.76,178.16 154.03,178.16 154.3,178.16 154.56,178.15 154.83,178.15 155.09,178.15 155.36,178.15 155.62,178.15 155.89,178.14 156.16,178.14 156.42,178.14 156.69,178.14 156.95,178.14 157.22,178.14 157.49,178.13 157.75,178.13 158.02,178.13 158.28,178.13 158.55,178.13 158.81,178.13 159.08,178.12 159.35,178.12 159.61,178.12 159.88,178.12 160.14,178.12 160.41,178.12 160.68,178.11 160.94,178.11 161.21,178.11 161.47,178.11 161.74,178.11 162,178.11 162.27,178.11 162.54,178.1 162.8,178.1 163.07,178.1 163.33,178.1 163.6,178.1 163.86,178.1 164.13,178.1 164.4,178.1 164.66,178.09 164.93,178.09 165.19,178.09 165.46,178.09 165.73,178.09 165.99,178.09 166.26,178.09 166.52,178.09 166.79,178.09 167.05,178.09 167.32,178.08 167.59,178.08 167.85,178.08 168.12,178.08 168.38,178.08 168.65,178.08 168.91,178.08 169.18,178.08 169.45,178.08 169.71,178.08 169.98,178.08 170.24,178.07 170.51,178.07 170.78,178.07 171.04,178.07 171.31,178.07 171.57,178.07 171.84,178.07 172.1,178.07 172.37,178.07 172.64,178.07 172.9,178.07 173.17,178.07 173.43,178.06 173.7,178.06 173.97,178.06 174.23,178.06 174.5,178.06 174.76,178.06 175.03,178.06 175.29,178.06 175.56,178.06 175.83,178.06 176.09,178.06 176.36,178.06 176.62,178.06 176.89,178.05 177.15,178.05 177.42,178.05 177.69,178.05 177.95,178.05 178.22,178.05 178.48,178.05 178.75,178.05 179.02,178.05 179.28,178.05 179.55,178.05 179.81,178.05 180.08,178.05 180.34,178.05 180.61,178.04 180.88,178.04 181.14,178.04 181.41,178.04 181.67,178.04 181.94,178.04 182.2,178.04 182.47,178.04 182.74,178.04 183,178.04 183.27,178.04 183.53,178.04 183.8,178.04 184.07,178.04 184.33,178.04 184.6,178.04 184.86,178.03 185.13,178.03 185.39,178.03 185.66,178.03 185.93,178.03 186.19,178.03 186.46,178.03 186.72,178.03 186.99,178.03 187.26,178.03 187.52,178.03 187.79,178.03 188.05,178.03 188.32,178.03 188.58,178.03 188.85,178.03 189.12,178.03 189.38,178.03 189.65,178.02 189.91,178.02 190.18,178.02 190.44,178.02 190.71,178.02 190.98,178.02 191.24,178.02 191.51,178.02 191.77,178.02 192.04,178.02 192.31,178.02 192.57,178.02 192.84,178.02 193.1,178.02 193.37,178.02 193.63,178.02 193.9,178.02 194.17,178.02 194.43,178.02 194.7,178.02 194.96,178.02 195.23,178.02 195.49,178.02 195.76,178.02 196.03,178.02 196.29,178.02 196.56,178.02 196.82,178.02 197.09,178.02 197.36,178.02 197.62,178.02 197.89,178.01 198.15,178.01 198.42,178.01 198.68,178.01 198.95,178.01 199.22,178.01 199.48,178.01 199.75,178.01 200.01,178.01 200.28,178.01 200.55,178.01 200.81,178.01 201.08,178.01 201.34,178.01 201.61,178.01 201.87,178.01 202.14,178.01 202.41,178.01 202.67,178.13 202.94,178.45 203.2,178.92 203.47,179.51 203.73,180.15 203.79,180.29 204,180.99 204.27,182.23 204.53,183.69 204.8,185.13 204.85,185.41 205.06,186.56 205.33,188.11 205.6,189.53 205.81,190.38 205.86,190.55 206.13,191.35 206.39,191.99 206.66,192.37 206.92,192.56 207.19,192.71 207.46,192.83 207.72,192.93 207.99,193.01 208.25,193.08 208.52,193.15 208.78,193.21 209.05,193.26 209.32,193.3 209.58,193.34 209.85,193.38 210.11,193.41 210.38,193.45 210.65,193.5 210.91,193.55 211.18,193.61 211.34,193.65 211.44,193.68 211.71,193.77 211.97,193.87 212.24,193.99 212.51,194.12 212.77,194.25 213.04,194.39 213.25,194.5 213.3,194.53 213.57,194.68 213.84,194.84 214.1,195.02 214.37,195.19 214.63,195.37 214.9,195.55 215.16,195.73 215.43,195.89 215.48,195.93 215.7,196.06 215.96,196.23 216.23,196.41 216.49,196.59 216.76,196.75 217.02,196.89 217.29,197 217.5,197.06 217.56,197.08 217.82,197.13 218.09,197.18 218.35,197.23 218.62,197.26 218.89,197.3 219.15,197.32 219.42,197.35 219.68,197.37 219.95,197.39 220.21,197.41 220.48,197.43 220.75,197.44 221.01,197.46 221.28,197.47 221.54,197.48 221.81,197.49 222.07,197.49 222.34,197.49 222.61,197.49 222.87,197.49 223.14,197.49 223.4,197.49 223.67,197.49 223.94,197.49 224.2,197.49 224.47,197.49 224.73,197.49 225,197.49 225.26,197.49 225.53,197.49 225.8,197.49 226.06,197.49 226.33,197.49 226.59,197.49 226.86,197.49 227.13,197.49 227.39,197.49 227.66,197.49 227.92,197.49 228.19,197.49 228.45,197.49 228.72,197.49 228.99,197.49 229.25,197.49 229.52,197.49 229.78,197.49 230.05,197.49 230.31,197.49 230.58,197.49 230.85,197.49 231.11,197.49 231.38,197.49 231.64,197.49 231.91,197.49 232.18,197.49 232.44,197.49 232.71,197.49 232.97,197.49 233.24,197.49 233.5,197.49 233.77,197.49 234.04,197.49 234.3,197.49 234.57,197.49 234.83,197.49 235.1,197.49 235.36,197.49 235.63,197.49 235.9,197.49 236.16,197.49 236.43,197.49 236.69,197.49 236.96,197.49 237.23,197.49 237.49,197.49 237.76,197.49 238.02,197.49 238.29,197.49 238.55,197.49 238.82,197.49 239.09,197.49 239.35,197.49 239.62,197.49 239.88,197.49 240.15,197.49 240.42,197.49 240.68,197.49 240.95,197.49 241.21,197.49 241.48,197.49 241.74,197.49 242.01,197.49 242.28,197.49 242.54,197.49 242.81,197.49 243.07,197.49 243.34,197.49 243.6,197.49 243.87,197.49 244.14,197.49 244.4,197.49 244.67,197.49 244.93,197.49 245.2,197.49 245.47,197.49 245.73,197.49 246,197.49 246.26,197.49 246.53,197.49 246.79,197.49 247.06,197.49 247.33,197.49 247.59,197.49 247.86,197.49 248.12,197.49 248.39,197.49 248.65,197.49 248.92,197.49 249.19,197.49 249.45,197.49 249.72,197.49 249.98,197.49 250.25,197.49 250.52,197.49 250.67,197.49 250.78,197.11 251.05,193.37 251.21,189.67 251.31,182.51 251.58,155.1 251.63,153.7 251.84,158.57 252.11,169.61 252.16,171.19 252.38,176.44 252.64,182.17 252.91,186.12 253.17,188.61 253.44,190.61 253.71,192.14 253.97,193.22 254.24,194.04 254.5,194.76 254.77,195.37 255.03,195.87 255.3,196.24 255.57,196.49 255.83,196.67 256.1,196.82 256.36,196.96 256.63,197.07 256.89,197.17 257.16,197.25 257.43,197.31 257.69,197.35 257.96,197.38 258.22,197.4 258.49,197.43 258.76,197.45 259.02,197.47 259.29,197.48 259.55,197.49 259.82,197.49 260.08,197.49 260.35,197.49 260.62,197.49 260.88,197.49 261.15,197.49 261.41,197.49 261.68,197.49 261.94,197.49 262.21,197.49 262.48,197.49 262.74,197.49 263.01,197.49 263.27,197.49 263.54,197.49 263.81,197.49 264.07,197.49 264.34,197.49 264.6,197.49 264.87,197.49 265.13,197.49 265.4,197.49 265.67,197.49 265.93,197.49 266.2,197.49 266.46,197.49 266.73,197.49 267,197.49 267.26,197.49 267.53,197.49 267.79,197.49 268.06,197.49 268.32,197.49 268.59,197.49 268.86,197.49 269.12,197.49 269.39,197.49 269.65,197.49 269.92,197.49 270.18,197.49 270.45,197.49 270.72,197.49 270.98,197.49 271.25,197.49 271.51,197.49 271.78,197.49 272.05,197.49 272.31,197.49 272.58,197.49 272.84,197.49 273.11,197.49 273.37,197.49 273.64,197.49 273.91,197.49 274.17,197.49 274.44,197.49 274.7,197.49 274.97,197.49 275.23,197.49 275.5,197.49 275.77,197.49 276.03,197.49 276.3,197.49 276.56,197.49 276.83,197.49 277.1,197.49 277.36,197.49 277.63,197.49 277.89,197.49 278.16,197.49 278.42,197.49 278.69,197.49 278.96,197.49 279.22,197.49 279.49,197.49 279.75,197.49 280.02,197.49 280.29,197.49 280.55,197.49 280.82,197.49 281.08,197.49 281.35,197.49 281.61,197.49 281.88,197.49 282.15,197.49 282.41,197.49 282.68,197.49 282.94,197.49 283.21,197.49 283.47,197.49 283.74,197.49 284.01,197.49 284.27,197.49 284.54,197.49 284.8,197.49 285.07,197.49 285.34,197.49 285.6,197.49 285.87,197.49 286.13,197.49 286.4,197.49 286.66,197.49 286.93,197.49 287.2,197.49 287.46,197.49 287.73,197.49 287.99,197.49 288.26,197.49 288.52,197.49 288.79,197.49 289.06,197.49 289.32,197.49 289.59,197.49 289.85,197.49 290.12,197.49 290.39,197.49 290.65,197.49 290.92,197.49 291.18,197.49 291.45,197.49 291.71,197.49 291.98,197.49 292.25,197.49 292.51,197.49 292.78,197.49 293.04,197.49 293.31,197.49 293.58,197.49 293.84,197.49 294.11,197.49 294.37,197.49 294.64,197.44 294.9,197.29 295.17,197.06 295.44,196.77 295.65,196.49 295.7,196.41 295.97,195.64 296.23,194.49 296.5,193.26 296.61,192.8 296.76,192.01 297.03,190.49 297.3,189.56 297.35,189.53 297.56,189.85 297.83,190.83 298.09,191.8 298.36,192.61 298.63,193.42 298.89,194.14 299.16,194.65 299.42,194.99 299.69,195.3 299.95,195.57 300.22,195.81 300.49,196.02 300.75,196.2 301.02,196.36 301.28,196.49 301.55,196.62 301.81,196.74 302.08,196.85 302.35,196.95 302.61,197.03 302.88,197.11 303.14,197.16 303.41,197.2 303.68,197.24 303.94,197.27 304.21,197.29 304.47,197.32 304.74,197.35 305,197.37 305.27,197.39 305.54,197.41 305.8,197.43 306.07,197.44 306.33,197.46 306.6,197.47 306.87,197.48 307.13,197.48 307.4,197.49 307.66,197.49 307.93,197.49 308.19,197.49 308.46,197.49 308.73,197.49 308.99,197.49 309.26,197.49 309.52,197.49 309.79,197.49 310.05,197.49 310.32,197.49 310.59,197.49 310.85,197.49 311.12,197.49 311.38,197.49 311.65,197.49 311.92,197.49 312.18,197.49 312.45,197.49 312.71,197.49 312.98,197.49 313.24,197.49 313.51,197.49 313.78,197.49 314.04,197.49 314.31,197.49 314.57,197.49 314.84,197.49 315.1,197.49 315.37,197.49 315.64,197.49 315.9,197.49 316.17,197.49 316.43,197.49 316.7,197.49 316.97,197.49 317.23,197.49 317.5,197.49 317.76,197.49 318.03,197.49 318.29,197.49 318.56,197.49 318.83,197.49 319.09,197.49 319.36,197.49 319.62,197.49 319.89,197.49 320.16,197.49 320.42,197.49 320.69,197.49 320.95,197.49 321.22,197.49 321.48,197.49 321.75,197.49 322.02,197.49 322.28,197.49 322.55,197.49 322.81,197.49 323.08,197.49 323.34,197.49 323.61,197.49 323.88,197.49 324.14,197.49 324.41,197.49 324.67,197.49 324.94,197.49 325.21,197.49 325.47,197.49 325.74,197.49 326,197.49 326.27,197.49 326.53,197.49 326.8,197.49" fill="none" stroke="#1414ee" stroke-width="1.45" stroke-linejoin="round" stroke-linecap="round"/>
<line x1="75" y1="30.5" x2="87.8" y2="30.5" stroke="#1414ee" stroke-width="1.3" stroke-linecap="butt"/>
<text x="94.6" y="33.6" font-size="9.55" text-anchor="start" fill="#000000">UV280</text>
<line x1="75" y1="46.3" x2="87.8" y2="46.3" stroke="#ee1414" stroke-width="1.3" stroke-linecap="butt"/>
<text x="94.6" y="49.4" font-size="9.55" text-anchor="start" fill="#000000">UV260</text>
<line x1="75" y1="61.1" x2="87.8" y2="61.1" stroke="#1e9a6c" stroke-width="1.3" stroke-linecap="butt"/>
<text x="94.6" y="64.2" font-size="9.55" text-anchor="start" fill="#000000">Conductivity</text>
<text x="4.2" y="14.4" font-size="14.5" text-anchor="start" font-weight="bold" fill="#111">A</text>
<text x="25.9" y="109" font-size="12.85" text-anchor="middle" fill="#000000" transform="rotate(-90 25.9 109)">UV Absorbance (mAU)</text>
<text x="360.2" y="109.3" font-size="12.9" text-anchor="middle" fill="#000000" transform="rotate(90 360.2 109.3)">Conductivity (mS/cm)</text>
<text x="193.9" y="229.8" font-size="12.6" text-anchor="middle" fill="#000000">Column Volumes (CV)</text>
<line x1="434.8" y1="21.9" x2="434.8" y2="202.2" stroke="#8c8c8c" stroke-width="1.3" stroke-linecap="butt"/>
<line x1="699.6" y1="21.9" x2="699.6" y2="202.2" stroke="#8c8c8c" stroke-width="1.3" stroke-linecap="butt"/>
<line x1="434.8" y1="197.8" x2="699.6" y2="197.8" stroke="#555" stroke-width="1" stroke-linecap="butt"/>
<line x1="429.8" y1="197.8" x2="434.8" y2="197.8" stroke="#666" stroke-width="1" stroke-linecap="butt"/>
<text x="428.7" y="201.25" font-size="9.65" text-anchor="end" fill="#000000">0</text>
<line x1="432.2" y1="190.76" x2="434.8" y2="190.76" stroke="#777" stroke-width="1" stroke-linecap="butt"/>
<line x1="432.2" y1="183.73" x2="434.8" y2="183.73" stroke="#777" stroke-width="1" stroke-linecap="butt"/>
<line x1="432.2" y1="176.69" x2="434.8" y2="176.69" stroke="#777" stroke-width="1" stroke-linecap="butt"/>
<line x1="432.2" y1="169.66" x2="434.8" y2="169.66" stroke="#777" stroke-width="1" stroke-linecap="butt"/>
<line x1="429.8" y1="162.62" x2="434.8" y2="162.62" stroke="#666" stroke-width="1" stroke-linecap="butt"/>
<text x="428.7" y="166.07" font-size="9.65" text-anchor="end" fill="#000000">250</text>
<line x1="432.2" y1="155.58" x2="434.8" y2="155.58" stroke="#777" stroke-width="1" stroke-linecap="butt"/>
<line x1="432.2" y1="148.55" x2="434.8" y2="148.55" stroke="#777" stroke-width="1" stroke-linecap="butt"/>
<line x1="432.2" y1="141.51" x2="434.8" y2="141.51" stroke="#777" stroke-width="1" stroke-linecap="butt"/>
<line x1="432.2" y1="134.48" x2="434.8" y2="134.48" stroke="#777" stroke-width="1" stroke-linecap="butt"/>
<line x1="429.8" y1="127.44" x2="434.8" y2="127.44" stroke="#666" stroke-width="1" stroke-linecap="butt"/>
<text x="428.7" y="130.89" font-size="9.65" text-anchor="end" fill="#000000">500</text>
<line x1="432.2" y1="120.4" x2="434.8" y2="120.4" stroke="#777" stroke-width="1" stroke-linecap="butt"/>
<line x1="432.2" y1="113.37" x2="434.8" y2="113.37" stroke="#777" stroke-width="1" stroke-linecap="butt"/>
<line x1="432.2" y1="106.33" x2="434.8" y2="106.33" stroke="#777" stroke-width="1" stroke-linecap="butt"/>
<line x1="432.2" y1="99.3" x2="434.8" y2="99.3" stroke="#777" stroke-width="1" stroke-linecap="butt"/>
<line x1="429.8" y1="92.26" x2="434.8" y2="92.26" stroke="#666" stroke-width="1" stroke-linecap="butt"/>
<text x="428.7" y="95.71" font-size="9.65" text-anchor="end" fill="#000000">750</text>
<line x1="432.2" y1="85.22" x2="434.8" y2="85.22" stroke="#777" stroke-width="1" stroke-linecap="butt"/>
<line x1="432.2" y1="78.19" x2="434.8" y2="78.19" stroke="#777" stroke-width="1" stroke-linecap="butt"/>
<line x1="432.2" y1="71.15" x2="434.8" y2="71.15" stroke="#777" stroke-width="1" stroke-linecap="butt"/>
<line x1="432.2" y1="64.12" x2="434.8" y2="64.12" stroke="#777" stroke-width="1" stroke-linecap="butt"/>
<line x1="429.8" y1="57.08" x2="434.8" y2="57.08" stroke="#666" stroke-width="1" stroke-linecap="butt"/>
<text x="428.7" y="60.53" font-size="9.65" text-anchor="end" fill="#000000">1000</text>
<line x1="432.2" y1="50.04" x2="434.8" y2="50.04" stroke="#777" stroke-width="1" stroke-linecap="butt"/>
<line x1="432.2" y1="43.01" x2="434.8" y2="43.01" stroke="#777" stroke-width="1" stroke-linecap="butt"/>
<line x1="432.2" y1="35.97" x2="434.8" y2="35.97" stroke="#777" stroke-width="1" stroke-linecap="butt"/>
<line x1="432.2" y1="28.94" x2="434.8" y2="28.94" stroke="#777" stroke-width="1" stroke-linecap="butt"/>
<line x1="429.8" y1="21.9" x2="434.8" y2="21.9" stroke="#666" stroke-width="1" stroke-linecap="butt"/>
<text x="428.7" y="25.35" font-size="9.65" text-anchor="end" fill="#000000">1250</text>
<line x1="699.6" y1="197.8" x2="704.3" y2="197.8" stroke="#666" stroke-width="1" stroke-linecap="butt"/>
<text x="705.1" y="201.25" font-size="9.65" text-anchor="start" fill="#000000">0</text>
<line x1="699.6" y1="190.76" x2="702.2" y2="190.76" stroke="#777" stroke-width="1" stroke-linecap="butt"/>
<line x1="699.6" y1="183.73" x2="702.2" y2="183.73" stroke="#777" stroke-width="1" stroke-linecap="butt"/>
<line x1="699.6" y1="176.69" x2="702.2" y2="176.69" stroke="#777" stroke-width="1" stroke-linecap="butt"/>
<line x1="699.6" y1="169.66" x2="702.2" y2="169.66" stroke="#777" stroke-width="1" stroke-linecap="butt"/>
<line x1="699.6" y1="162.62" x2="704.3" y2="162.62" stroke="#666" stroke-width="1" stroke-linecap="butt"/>
<text x="705.1" y="166.07" font-size="9.65" text-anchor="start" fill="#000000">25</text>
<line x1="699.6" y1="155.58" x2="702.2" y2="155.58" stroke="#777" stroke-width="1" stroke-linecap="butt"/>
<line x1="699.6" y1="148.55" x2="702.2" y2="148.55" stroke="#777" stroke-width="1" stroke-linecap="butt"/>
<line x1="699.6" y1="141.51" x2="702.2" y2="141.51" stroke="#777" stroke-width="1" stroke-linecap="butt"/>
<line x1="699.6" y1="134.48" x2="702.2" y2="134.48" stroke="#777" stroke-width="1" stroke-linecap="butt"/>
<line x1="699.6" y1="127.44" x2="704.3" y2="127.44" stroke="#666" stroke-width="1" stroke-linecap="butt"/>
<text x="705.1" y="130.89" font-size="9.65" text-anchor="start" fill="#000000">50</text>
<line x1="699.6" y1="120.4" x2="702.2" y2="120.4" stroke="#777" stroke-width="1" stroke-linecap="butt"/>
<line x1="699.6" y1="113.37" x2="702.2" y2="113.37" stroke="#777" stroke-width="1" stroke-linecap="butt"/>
<line x1="699.6" y1="106.33" x2="702.2" y2="106.33" stroke="#777" stroke-width="1" stroke-linecap="butt"/>
<line x1="699.6" y1="99.3" x2="702.2" y2="99.3" stroke="#777" stroke-width="1" stroke-linecap="butt"/>
<line x1="699.6" y1="92.26" x2="704.3" y2="92.26" stroke="#666" stroke-width="1" stroke-linecap="butt"/>
<text x="705.1" y="95.71" font-size="9.65" text-anchor="start" fill="#000000">75</text>
<line x1="699.6" y1="85.22" x2="702.2" y2="85.22" stroke="#777" stroke-width="1" stroke-linecap="butt"/>
<line x1="699.6" y1="78.19" x2="702.2" y2="78.19" stroke="#777" stroke-width="1" stroke-linecap="butt"/>
<line x1="699.6" y1="71.15" x2="702.2" y2="71.15" stroke="#777" stroke-width="1" stroke-linecap="butt"/>
<line x1="699.6" y1="64.12" x2="702.2" y2="64.12" stroke="#777" stroke-width="1" stroke-linecap="butt"/>
<line x1="699.6" y1="57.08" x2="704.3" y2="57.08" stroke="#666" stroke-width="1" stroke-linecap="butt"/>
<text x="705.1" y="60.53" font-size="9.65" text-anchor="start" fill="#000000">100</text>
<line x1="699.6" y1="50.04" x2="702.2" y2="50.04" stroke="#777" stroke-width="1" stroke-linecap="butt"/>
<line x1="699.6" y1="43.01" x2="702.2" y2="43.01" stroke="#777" stroke-width="1" stroke-linecap="butt"/>
<line x1="699.6" y1="35.97" x2="702.2" y2="35.97" stroke="#777" stroke-width="1" stroke-linecap="butt"/>
<line x1="699.6" y1="28.94" x2="702.2" y2="28.94" stroke="#777" stroke-width="1" stroke-linecap="butt"/>
<line x1="699.6" y1="21.9" x2="704.3" y2="21.9" stroke="#666" stroke-width="1" stroke-linecap="butt"/>
<text x="705.1" y="25.35" font-size="9.65" text-anchor="start" fill="#000000">125</text>
<line x1="434.8" y1="197.8" x2="434.8" y2="202.2" stroke="#666" stroke-width="1" stroke-linecap="butt"/>
<text x="434.8" y="212.8" font-size="9.65" text-anchor="middle" fill="#000000">0</text>
<line x1="445.39" y1="197.8" x2="445.39" y2="200.3" stroke="#777" stroke-width="1" stroke-linecap="butt"/>
<line x1="455.98" y1="197.8" x2="455.98" y2="200.3" stroke="#777" stroke-width="1" stroke-linecap="butt"/>
<line x1="466.58" y1="197.8" x2="466.58" y2="200.3" stroke="#777" stroke-width="1" stroke-linecap="butt"/>
<line x1="477.17" y1="197.8" x2="477.17" y2="200.3" stroke="#777" stroke-width="1" stroke-linecap="butt"/>
<line x1="487.76" y1="197.8" x2="487.76" y2="202.2" stroke="#666" stroke-width="1" stroke-linecap="butt"/>
<text x="487.76" y="212.8" font-size="9.65" text-anchor="middle" fill="#000000">50</text>
<line x1="498.35" y1="197.8" x2="498.35" y2="200.3" stroke="#777" stroke-width="1" stroke-linecap="butt"/>
<line x1="508.94" y1="197.8" x2="508.94" y2="200.3" stroke="#777" stroke-width="1" stroke-linecap="butt"/>
<line x1="519.54" y1="197.8" x2="519.54" y2="200.3" stroke="#777" stroke-width="1" stroke-linecap="butt"/>
<line x1="530.13" y1="197.8" x2="530.13" y2="200.3" stroke="#777" stroke-width="1" stroke-linecap="butt"/>
<line x1="540.72" y1="197.8" x2="540.72" y2="202.2" stroke="#666" stroke-width="1" stroke-linecap="butt"/>
<text x="540.72" y="212.8" font-size="9.65" text-anchor="middle" fill="#000000">100</text>
<line x1="551.31" y1="197.8" x2="551.31" y2="200.3" stroke="#777" stroke-width="1" stroke-linecap="butt"/>
<line x1="561.9" y1="197.8" x2="561.9" y2="200.3" stroke="#777" stroke-width="1" stroke-linecap="butt"/>
<line x1="572.5" y1="197.8" x2="572.5" y2="200.3" stroke="#777" stroke-width="1" stroke-linecap="butt"/>
<line x1="583.09" y1="197.8" x2="583.09" y2="200.3" stroke="#777" stroke-width="1" stroke-linecap="butt"/>
<line x1="593.68" y1="197.8" x2="593.68" y2="202.2" stroke="#666" stroke-width="1" stroke-linecap="butt"/>
<text x="593.68" y="212.8" font-size="9.65" text-anchor="middle" fill="#000000">150</text>
<line x1="604.27" y1="197.8" x2="604.27" y2="200.3" stroke="#777" stroke-width="1" stroke-linecap="butt"/>
<line x1="614.86" y1="197.8" x2="614.86" y2="200.3" stroke="#777" stroke-width="1" stroke-linecap="butt"/>
<line x1="625.46" y1="197.8" x2="625.46" y2="200.3" stroke="#777" stroke-width="1" stroke-linecap="butt"/>
<line x1="636.05" y1="197.8" x2="636.05" y2="200.3" stroke="#777" stroke-width="1" stroke-linecap="butt"/>
<line x1="646.64" y1="197.8" x2="646.64" y2="202.2" stroke="#666" stroke-width="1" stroke-linecap="butt"/>
<text x="646.64" y="212.8" font-size="9.65" text-anchor="middle" fill="#000000">200</text>
<line x1="657.23" y1="197.8" x2="657.23" y2="200.3" stroke="#777" stroke-width="1" stroke-linecap="butt"/>
<line x1="667.82" y1="197.8" x2="667.82" y2="200.3" stroke="#777" stroke-width="1" stroke-linecap="butt"/>
<line x1="678.42" y1="197.8" x2="678.42" y2="200.3" stroke="#777" stroke-width="1" stroke-linecap="butt"/>
<line x1="689.01" y1="197.8" x2="689.01" y2="200.3" stroke="#777" stroke-width="1" stroke-linecap="butt"/>
<line x1="699.6" y1="197.8" x2="699.6" y2="202.2" stroke="#666" stroke-width="1" stroke-linecap="butt"/>
<text x="699.6" y="212.8" font-size="9.65" text-anchor="middle" fill="#000000">250</text>
<polyline points="434.8,186.96 435.06,186.96 435.33,186.96 435.59,186.96 435.86,186.96 436.12,186.97 436.39,186.97 436.65,186.97 436.92,186.97 437.18,186.97 437.45,186.97 437.71,186.97 437.98,186.97 438.24,186.97 438.51,186.97 438.77,186.97 439.04,186.97 439.3,186.97 439.57,186.97 439.83,186.97 440.1,186.97 440.36,186.97 440.63,186.98 440.89,186.98 441.16,186.98 441.42,186.98 441.68,186.98 441.95,186.98 442.21,186.98 442.48,186.98 442.74,186.98 443.01,186.99 443.27,186.99 443.54,186.99 443.8,186.99 444.07,186.99 444.33,186.99 444.6,186.99 444.86,187 445.13,187 445.39,187 445.66,187 445.92,187 446.19,187.01 446.45,187.01 446.72,187.01 446.98,187.01 447.25,187.01 447.51,187.02 447.78,187.02 448.04,187.02 448.3,187.02 448.57,187.02 448.83,187.03 449.1,187.03 449.36,187.03 449.63,187.03 449.89,187.04 450.16,187.04 450.42,187.04 450.69,187.04 450.95,187.05 451.22,187.05 451.48,187.05 451.75,187.05 452.01,187.06 452.28,187.06 452.54,187.06 452.81,187.07 453.07,187.07 453.34,187.07 453.6,187.08 453.87,187.08 454.13,187.08 454.4,187.08 454.66,187.09 454.92,187.09 455.19,187.09 455.45,187.1 455.72,187.1 455.98,187.11 456.25,187.11 456.51,187.12 456.78,187.13 457.04,187.14 457.31,187.15 457.57,187.16 457.84,187.18 458.1,187.2 458.37,187.22 458.63,187.24 458.9,187.26 459.16,187.28 459.43,187.3 459.69,187.32 459.96,187.35 460.22,187.37 460.49,187.4 460.75,187.42 461.02,187.45 461.28,187.47 461.54,187.5 461.81,187.53 462.07,187.55 462.34,187.57 462.6,187.6 462.87,187.62 463.13,187.64 463.4,187.67 463.66,187.69 463.93,187.71 464.19,187.72 464.46,187.74 464.72,187.76 464.99,187.77 465.25,187.78 465.52,187.79 465.78,187.8 466.05,187.8 466.31,187.81 466.58,187.81 466.84,187.81 467.11,187.81 467.37,187.81 467.64,187.81 467.9,187.81 468.16,187.81 468.43,187.81 468.69,187.81 468.96,187.81 469.22,187.81 469.49,187.81 469.75,187.81 470.02,187.81 470.28,187.81 470.55,187.81 470.81,187.81 471.08,187.81 471.34,187.81 471.61,187.81 471.87,187.81 472.14,187.81 472.4,187.81 472.67,187.81 472.93,187.81 473.2,187.81 473.46,187.81 473.73,187.81 473.99,187.81 474.26,187.81 474.52,187.81 474.78,187.81 475.05,187.81 475.31,187.81 475.58,187.81 475.84,187.81 476.11,187.81 476.37,187.81 476.64,187.81 476.9,187.81 477.17,187.81 477.43,187.81 477.7,187.81 477.96,187.81 478.23,187.81 478.49,187.81 478.76,187.81 479.02,187.81 479.29,187.81 479.55,187.81 479.82,187.81 480.08,187.81 480.35,187.81 480.61,187.81 480.88,187.81 481.14,187.81 481.4,187.81 481.67,187.81 481.93,187.81 482.2,187.81 482.46,187.81 482.73,187.81 482.99,187.81 483.26,187.81 483.52,187.81 483.79,187.81 484.05,187.81 484.32,187.81 484.58,187.81 484.85,187.81 485.11,187.81 485.38,187.81 485.64,187.81 485.91,187.81 486.17,187.81 486.44,187.81 486.7,187.81 486.97,187.81 487.23,187.81 487.5,187.81 487.76,187.81 488.02,187.81 488.29,187.81 488.55,187.81 488.82,187.81 489.08,187.81 489.35,187.81 489.61,187.81 489.88,187.81 490.14,187.81 490.41,187.81 490.67,187.81 490.94,187.81 491.2,187.81 491.47,187.81 491.73,187.81 492,187.81 492.26,187.81 492.53,187.81 492.79,187.81 493.06,187.81 493.32,187.81 493.59,187.81 493.85,187.81 494.12,187.81 494.38,187.81 494.64,187.81 494.91,187.81 495.17,187.81 495.44,187.81 495.7,187.81 495.97,187.81 496.23,187.81 496.5,187.81 496.76,187.81 497.03,187.81 497.29,187.81 497.56,187.81 497.82,187.81 498.09,187.81 498.35,187.81 498.62,187.81 498.88,187.81 499.15,187.81 499.41,187.81 499.68,187.81 499.94,187.81 500.21,187.81 500.47,187.81 500.74,187.81 501,187.8 501.26,187.8 501.53,187.8 501.79,187.8 502.06,187.8 502.32,187.8 502.59,187.8 502.85,187.8 503.12,187.8 503.38,187.8 503.65,187.8 503.91,187.8 504.18,187.8 504.44,187.8 504.71,187.8 504.97,187.8 505.24,187.8 505.5,187.8 505.77,187.8 506.03,187.8 506.3,187.8 506.56,187.8 506.83,187.8 507.09,187.8 507.36,187.8 507.62,187.8 507.88,187.8 508.15,187.8 508.41,187.8 508.68,187.8 508.94,187.8 509.21,187.8 509.47,187.8 509.74,187.8 510,187.8 510.27,187.8 510.53,187.8 510.8,187.8 511.06,187.8 511.33,187.8 511.59,187.8 511.86,187.8 512.12,187.8 512.39,187.8 512.65,187.8 512.92,187.8 513.18,187.8 513.45,187.8 513.71,187.8 513.98,187.8 514.24,187.8 514.5,187.8 514.77,187.8 515.03,187.8 515.3,187.8 515.56,187.8 515.83,187.8 516.09,187.8 516.36,187.8 516.62,187.8 516.89,187.8 517.15,187.8 517.42,187.8 517.68,187.8 517.95,187.8 518.21,187.8 518.48,187.8 518.74,187.8 519.01,187.8 519.27,187.8 519.54,187.8 519.8,187.8 520.07,187.79 520.33,187.79 520.6,187.79 520.86,187.79 521.12,187.79 521.39,187.79 521.65,187.79 521.92,187.79 522.18,187.79 522.45,187.79 522.71,187.79 522.98,187.79 523.24,187.79 523.51,187.79 523.77,187.79 524.04,187.79 524.3,187.79 524.57,187.79 524.83,187.79 525.1,187.79 525.36,187.79 525.63,187.79 525.89,187.79 526.16,187.79 526.42,187.79 526.69,187.79 526.95,187.79 527.22,187.79 527.48,187.79 527.74,187.79 528.01,187.79 528.27,187.79 528.54,187.79 528.8,187.79 529.07,187.79 529.33,187.79 529.6,187.79 529.86,187.79 530.13,187.79 530.39,187.79 530.66,187.79 530.92,187.78 531.19,187.78 531.45,187.78 531.72,187.78 531.98,187.78 532.25,187.78 532.51,187.78 532.78,187.78 533.04,187.78 533.31,187.78 533.57,187.78 533.84,187.78 534.1,187.78 534.36,187.78 534.63,187.78 534.89,187.78 535.16,187.78 535.42,187.78 535.69,187.78 535.95,187.78 536.22,187.78 536.48,187.78 536.75,187.78 537.01,187.78 537.28,187.78 537.54,187.78 537.81,187.78 538.07,187.78 538.34,187.78 538.6,187.78 538.87,187.78 539.13,187.77 539.4,187.77 539.66,187.77 539.93,187.77 540.19,187.77 540.46,187.77 540.72,187.77 540.98,187.77 541.25,187.77 541.51,187.77 541.78,187.77 542.04,187.77 542.31,187.77 542.57,187.77 542.84,187.77 543.1,187.77 543.37,187.77 543.63,187.77 543.9,187.77 544.16,187.77 544.43,187.77 544.69,187.77 544.96,187.77 545.22,187.77 545.49,187.77 545.75,187.76 546.02,187.76 546.28,187.76 546.55,187.76 546.81,187.76 547.08,187.76 547.34,187.76 547.6,187.76 547.87,187.76 548.13,187.76 548.4,187.76 548.66,187.76 548.93,187.76 549.19,187.76 549.46,187.76 549.72,187.76 549.99,187.76 550.25,187.76 550.52,187.76 550.78,187.76 551.05,187.76 551.31,187.75 551.58,187.75 551.84,187.75 552.11,187.75 552.37,187.75 552.64,187.75 552.9,187.75 553.17,187.75 553.43,187.75 553.7,187.75 553.96,187.75 554.22,187.75 554.49,187.75 554.75,187.75 555.02,187.75 555.28,187.75 555.55,187.75 555.81,187.75 556.08,187.75 556.34,187.74 556.61,187.74 556.87,187.74 557.14,187.74 557.4,187.74 557.67,187.74 557.93,187.74 558.2,187.74 558.46,187.74 558.73,187.74 558.99,187.74 559.26,187.74 559.52,187.74 559.79,187.74 560.05,187.74 560.32,187.74 560.58,187.74 560.84,187.73 561.11,187.73 561.37,187.73 561.64,187.73 561.9,187.73 562.17,187.73 562.43,187.73 562.7,187.73 562.96,187.73 563.23,187.73 563.49,187.73 563.76,187.73 564.02,187.73 564.29,187.73 564.55,187.73 564.82,187.73 565.08,187.72 565.35,187.72 565.61,187.72 565.88,187.72 566.14,187.72 566.41,187.72 566.67,187.72 566.94,187.72 567.2,187.72 567.46,187.72 567.73,187.72 567.99,187.72 568.26,187.72 568.52,187.72 568.79,187.71 569.05,187.71 569.32,187.71 569.58,187.71 569.85,187.71 570.11,187.71 570.38,187.71 570.64,187.71 570.91,187.71 571.17,187.71 571.44,187.71 571.7,187.71 571.97,187.71 572.23,187.71 572.5,187.7 572.76,187.7 573.03,187.7 573.29,187.7 573.56,187.7 573.82,187.7 574.08,187.7 574.35,187.7 574.61,187.7 574.88,187.7 575.14,187.7 575.41,187.7 575.67,187.7 575.94,187.69 576.2,187.69 576.47,187.69 576.73,187.69 577,187.69 577.26,187.69 577.53,187.69 577.79,187.69 578.06,187.69 578.32,187.69 578.59,187.69 578.85,187.68 579.12,187.68 579.38,187.68 579.65,187.68 579.91,187.68 580.18,187.68 580.44,187.68 580.7,187.68 580.97,187.68 581.23,187.68 581.5,187.68 581.76,187.68 582.03,187.67 582.29,187.67 582.56,187.67 582.82,187.67 583.09,187.67 583.35,187.67 583.62,187.67 583.88,187.67 584.15,187.67 584.41,187.67 584.68,187.66 584.94,187.66 585.21,187.66 585.47,187.66 585.74,187.66 586,187.66 586.27,187.66 586.53,187.66 586.8,187.66 587.06,187.66 587.32,187.66 587.59,187.65 587.85,187.65 588.12,187.65 588.38,187.65 588.65,187.65 588.91,187.65 589.18,187.65 589.44,187.65 589.71,187.65 589.97,187.64 590.24,187.64 590.5,187.64 590.77,187.64 591.03,187.64 591.3,187.64 591.56,187.64 591.83,187.64 592.09,187.64 592.36,187.64 592.62,187.63 592.89,187.63 593.15,187.63 593.42,187.63 593.68,187.63 593.94,187.63 594.21,187.63 594.47,187.63 594.74,187.63 595,187.62 595.27,187.62 595.53,187.62 595.8,187.62 596.06,187.62 596.33,187.62 596.59,187.62 596.86,187.62 597.12,187.62 597.39,187.61 597.65,187.61 597.92,187.61 598.18,187.61 598.45,187.61 598.71,187.61 598.98,187.61 599.24,187.61 599.51,187.6 599.77,187.6 600.04,187.6 600.3,187.6 600.56,187.6 600.83,187.6 601.09,187.6 601.36,187.6 601.62,187.59 601.89,187.59 602.15,187.59 602.42,187.59 602.68,187.59 602.95,187.59 603.21,187.59 603.48,187.59 603.74,187.58 604.01,187.58 604.27,187.58 604.54,187.58 604.8,187.58 605.07,187.58 605.33,187.58 605.6,187.58 605.86,187.57 606.13,187.57 606.39,187.57 606.66,187.57 606.92,187.57 607.18,187.57 607.45,187.57 607.71,187.56 607.98,187.56 608.24,187.56 608.51,187.56 608.77,187.56 609.04,187.56 609.3,187.56 609.57,187.56 609.83,187.55 610.1,187.55 610.36,187.55 610.63,187.55 610.89,187.55 611.16,187.55 611.42,187.55 611.69,187.54 611.95,187.54 612.22,187.54 612.48,187.54 612.75,187.54 613.01,187.54 613.28,187.54 613.54,187.53 613.8,187.53 614.07,187.53 614.33,187.53 614.6,187.53 614.65,187.53 614.86,187.46 614.97,187.39 615.13,182.28 615.39,162.6 615.5,155.58 615.66,146.99 615.92,133.27 616.19,120.5 616.35,113.37 616.45,108.75 616.72,97.41 616.98,86.97 617.25,78.25 617.3,76.78 617.51,71.53 617.78,65.97 618.04,61.3 618.31,57.12 618.57,53.54 618.78,51.45 618.84,51.05 619.1,49.17 619.37,47.55 619.63,46.21 619.9,45.15 620.16,44.42 620.42,43.86 620.69,43.34 620.95,42.87 621.22,42.43 621.48,42.03 621.75,41.66 622.01,41.32 622.28,41.02 622.54,40.75 622.81,40.51 623.07,40.3 623.34,40.11 623.6,39.95 623.87,39.82 623.97,39.77 624.13,39.7 624.4,39.6 624.66,39.49 624.93,39.39 625.19,39.29 625.46,39.2 625.72,39.12 625.99,39.03 626.25,38.95 626.52,38.88 626.78,38.81 627.04,38.75 627.31,38.69 627.57,38.63 627.84,38.58 628.1,38.53 628.37,38.49 628.63,38.46 628.9,38.43 629.16,38.4 629.43,38.38 629.69,38.36 629.96,38.35 630.22,38.34 630.49,38.33 630.75,38.31 631.02,38.3 631.28,38.29 631.55,38.28 631.81,38.27 632.08,38.25 632.34,38.24 632.61,38.23 632.87,38.22 633.14,38.21 633.4,38.2 633.66,38.19 633.93,38.18 634.19,38.17 634.46,38.16 634.72,38.15 634.99,38.14 635.25,38.14 635.52,38.13 635.78,38.12 636.05,38.11 636.31,38.1 636.58,38.1 636.84,38.09 637.11,38.08 637.37,38.07 637.64,38.07 637.9,38.06 638.17,38.05 638.43,38.05 638.7,38.04 638.96,38.03 639.23,38.03 639.49,38.02 639.76,38.02 640.02,38.01 640.28,38.01 640.55,38 640.81,38 641.08,37.99 641.34,37.99 641.61,37.99 641.87,37.98 642.14,37.98 642.4,37.98 642.67,37.97 642.93,37.97 643.2,37.97 643.46,37.96 643.73,37.96 643.99,37.96 644.26,37.96 644.52,37.95 644.79,37.95 645.05,37.95 645.32,37.95 645.58,37.95 645.85,37.95 646.11,37.94 646.38,37.94 646.64,37.94 646.9,37.94 647.17,37.94 647.43,37.94 647.7,37.94 647.96,39.15 648.23,41.84 648.33,43.01 648.49,45.04 648.76,49.63 649.02,55.31 649.29,61.59 649.55,67.97 649.82,73.98 650.03,78.19 650.08,79.16 650.35,84.29 650.61,89.74 650.88,95.33 651.14,100.91 651.41,106.29 651.67,111.31 651.94,115.8 652.2,119.59 652.47,122.51 652.73,124.38 653,125.05 653.26,123.64 653.52,120.04 653.79,115.2 654.05,110.09 654.32,105.65 654.37,104.92 654.58,102.2 654.85,98.88 655.11,95.71 655.38,92.74 655.64,90.01 655.91,87.43 656.17,84.92 656.44,82.53 656.7,80.34 656.97,78.41 657.23,76.78 657.5,75.35 657.76,73.97 658.03,72.64 658.29,71.36 658.56,70.14 658.82,68.98 659.09,67.9 659.35,66.88 659.62,65.94 659.88,65.09 660.14,64.32 660.41,63.65 660.67,63.07 660.94,62.59 661.05,62.43 661.2,62.2 661.47,61.84 661.73,61.49 662,61.16 662.26,60.85 662.53,60.55 662.79,60.27 663.06,60.01 663.32,59.77 663.59,59.54 663.85,59.32 664.12,59.13 664.38,58.95 664.65,58.78 664.91,58.63 665.18,58.5 665.44,58.38 665.71,58.28 665.92,58.21 665.97,58.19 666.24,58.11 666.5,58.03 666.76,57.95 667.03,57.88 667.29,57.8 667.56,57.73 667.82,57.67 668.09,57.6 668.35,57.53 668.62,57.47 668.88,57.41 669.15,57.36 669.41,57.3 669.68,57.25 669.94,57.2 670.21,57.15 670.47,57.1 670.74,57.06 671,57.01 671.27,56.97 671.53,56.94 671.8,56.9 672.06,56.87 672.33,56.84 672.59,56.81 672.86,56.78 673.12,56.76 673.38,56.73 673.65,56.71 673.91,56.7 674.18,56.68 674.44,56.67 674.71,56.66 674.97,56.65 675.24,56.64 675.5,56.63 675.77,56.62 676.03,56.61 676.3,56.6 676.56,56.59 676.83,56.59 677.09,56.58 677.36,56.57 677.62,56.56 677.89,56.55 678.15,56.54 678.42,56.54 678.68,56.53 678.95,56.52 679.21,56.51 679.48,56.51 679.74,56.5 680,56.49 680.27,56.48 680.53,56.48 680.8,56.47 681.06,56.46 681.33,56.46 681.59,56.45 681.86,56.44 682.12,56.44 682.39,56.43 682.65,56.43 682.92,56.42 683.18,56.41 683.45,56.41 683.71,56.4 683.98,56.4 684.24,56.39 684.51,56.38 684.77,56.38 685.04,56.37 685.3,56.37 685.57,56.36 685.83,56.36 686.1,56.35 686.36,56.35 686.62,56.34 686.89,56.34 687.15,56.34 687.42,56.33 687.68,56.33 687.95,56.32 688.21,56.32 688.48,56.32 688.74,56.31 689.01,56.31 689.27,56.3 689.54,56.3 689.8,56.3 690.07,56.29 690.33,56.29 690.6,56.29 690.86,56.28 691.13,56.28 691.39,56.28 691.66,56.28 691.92,56.27 692.19,56.27 692.45,56.27 692.72,56.27 692.98,56.26 693.24,56.26 693.51,56.26 693.77,56.26 694.04,56.26 694.3,56.25 694.57,56.25 694.83,56.25 695.1,56.25 695.36,56.25 695.63,56.25 695.89,56.24 696.16,56.24 696.42,56.24 696.69,56.24 696.95,56.24 697.22,56.24 697.48,56.24 697.75,56.24 698.01,56.24 698.28,56.24 698.54,56.24 698.81,56.24 699.07,56.24 699.34,56.24 699.6,56.24" fill="none" stroke="#1e9a6c" stroke-width="1.35" stroke-linejoin="round" stroke-linecap="round"/>
<polyline points="434.8,197.8 435.06,197.8 435.33,197.8 435.59,197.8 435.86,197.8 436.12,197.8 436.39,197.8 436.65,197.8 436.92,197.8 437.18,197.8 437.45,197.8 437.71,197.8 437.98,197.8 438.24,197.8 438.51,197.8 438.77,197.8 439.04,197.8 439.3,197.8 439.57,197.8 439.83,197.8 440.1,197.8 440.36,197.8 440.63,197.8 440.89,197.8 441.16,197.8 441.42,197.8 441.68,197.8 441.95,197.8 442.21,197.8 442.48,197.8 442.74,197.8 443.01,197.8 443.27,197.8 443.54,197.8 443.8,197.8 444.07,197.8 444.33,197.8 444.6,197.8 444.86,197.8 445.13,197.8 445.39,197.8 445.66,197.8 445.92,197.8 446.19,197.8 446.45,197.8 446.72,197.8 446.98,197.8 447.25,197.8 447.51,197.8 447.78,197.8 448.04,197.8 448.3,197.8 448.57,197.8 448.83,197.8 449.1,197.8 449.36,197.8 449.63,197.8 449.73,197.8 449.89,197.75 450.16,197.48 450.42,197.04 450.69,196.53 450.9,196.11 450.95,196.01 451.22,195.38 451.48,194.61 451.75,193.74 452.01,192.83 452.28,191.92 452.54,191.07 452.81,190.32 452.91,190.06 453.07,189.69 453.34,189.08 453.6,188.49 453.87,187.9 454.13,187.34 454.4,186.8 454.66,186.29 454.92,185.8 455.19,185.35 455.45,184.94 455.72,184.57 455.98,184.24 456.2,184.01 456.25,183.96 456.51,183.7 456.78,183.47 457.04,183.24 457.31,183.04 457.57,182.84 457.84,182.66 458.1,182.49 458.37,182.32 458.63,182.17 458.9,182.02 459.16,181.88 459.43,181.75 459.69,181.62 459.96,181.49 460.22,181.36 460.49,181.24 460.75,181.13 461.02,181.01 461.28,180.9 461.54,180.79 461.81,180.69 462.07,180.59 462.34,180.49 462.6,180.4 462.87,180.31 463.13,180.23 463.4,180.15 463.66,180.07 463.93,180.01 464.19,179.94 464.25,179.93 464.46,179.88 464.72,179.82 464.99,179.76 465.25,179.7 465.52,179.65 465.78,179.59 466.05,179.53 466.31,179.48 466.58,179.42 466.84,179.37 467.11,179.32 467.37,179.27 467.64,179.22 467.9,179.18 468.16,179.13 468.43,179.09 468.69,179.04 468.96,179 469.22,178.97 469.49,178.93 469.75,178.89 470.02,178.86 470.28,178.83 470.55,178.8 470.81,178.77 471.08,178.75 471.34,178.72 471.61,178.7 471.87,178.69 472.14,178.67 472.3,178.66 472.4,178.66 472.67,178.64 472.93,178.63 473.2,178.62 473.46,178.61 473.73,178.6 473.99,178.59 474.26,178.57 474.52,178.56 474.78,178.55 475.05,178.54 475.31,178.53 475.58,178.52 475.84,178.51 476.11,178.5 476.37,178.49 476.64,178.48 476.9,178.48 477.17,178.47 477.43,178.46 477.7,178.45 477.96,178.44 478.23,178.44 478.49,178.43 478.76,178.42 479.02,178.41 479.29,178.41 479.55,178.4 479.82,178.39 480.08,178.39 480.35,178.38 480.61,178.37 480.88,178.37 481.14,178.36 481.4,178.35 481.67,178.35 481.93,178.34 482.2,178.34 482.46,178.33 482.73,178.33 482.99,178.32 483.26,178.32 483.52,178.31 483.79,178.31 484.05,178.3 484.32,178.3 484.58,178.3 484.85,178.29 485.11,178.29 485.38,178.28 485.64,178.28 485.91,178.27 486.17,178.27 486.44,178.27 486.7,178.26 486.97,178.26 487.23,178.26 487.5,178.25 487.76,178.25 488.02,178.25 488.29,178.24 488.5,178.24 488.55,178.24 488.82,178.24 489.08,178.23 489.35,178.23 489.61,178.23 489.88,178.22 490.14,178.22 490.41,178.22 490.67,178.21 490.94,178.21 491.2,178.21 491.47,178.2 491.73,178.2 492,178.2 492.26,178.19 492.53,178.19 492.79,178.19 493.06,178.18 493.32,178.18 493.59,178.18 493.85,178.17 494.12,178.17 494.38,178.17 494.64,178.17 494.91,178.16 495.17,178.16 495.44,178.16 495.7,178.15 495.97,178.15 496.23,178.15 496.5,178.14 496.76,178.14 497.03,178.14 497.29,178.13 497.56,178.13 497.82,178.13 498.09,178.13 498.35,178.12 498.62,178.12 498.88,178.12 499.15,178.11 499.41,178.11 499.68,178.11 499.94,178.1 500.21,178.1 500.47,178.1 500.74,178.1 501,178.09 501.26,178.09 501.53,178.09 501.79,178.08 502.06,178.08 502.32,178.08 502.59,178.08 502.85,178.07 503.12,178.07 503.38,178.07 503.65,178.06 503.91,178.06 504.18,178.06 504.44,178.06 504.71,178.05 504.97,178.05 505.24,178.05 505.5,178.04 505.77,178.04 506.03,178.04 506.3,178.04 506.56,178.03 506.83,178.03 507.09,178.03 507.36,178.02 507.62,178.02 507.88,178.02 508.15,178.02 508.41,178.01 508.68,178.01 508.94,178.01 509.21,178.01 509.47,178 509.74,178 510,178 510.27,178 510.53,177.99 510.8,177.99 511.06,177.99 511.33,177.99 511.59,177.98 511.86,177.98 512.12,177.98 512.39,177.97 512.65,177.97 512.92,177.97 513.18,177.97 513.45,177.96 513.71,177.96 513.98,177.96 514.24,177.96 514.5,177.95 514.77,177.95 515.03,177.95 515.3,177.95 515.56,177.94 515.83,177.94 516.09,177.94 516.36,177.94 516.62,177.94 516.89,177.93 517.15,177.93 517.42,177.93 517.68,177.93 517.95,177.92 518.21,177.92 518.48,177.92 518.74,177.92 519.01,177.91 519.27,177.91 519.54,177.91 519.8,177.91 520.07,177.9 520.33,177.9 520.6,177.9 520.86,177.9 521.12,177.9 521.39,177.89 521.65,177.89 521.92,177.89 522.18,177.89 522.45,177.89 522.71,177.88 522.98,177.88 523.24,177.88 523.51,177.88 523.77,177.87 524.04,177.87 524.3,177.87 524.57,177.87 524.83,177.87 525.1,177.86 525.36,177.86 525.63,177.86 525.89,177.86 526.16,177.86 526.42,177.85 526.69,177.85 526.95,177.85 527.22,177.85 527.48,177.85 527.74,177.84 528.01,177.84 528.27,177.84 528.54,177.84 528.8,177.84 529.07,177.83 529.33,177.83 529.6,177.83 529.86,177.83 530.13,177.83 530.39,177.82 530.66,177.82 530.92,177.82 531.19,177.82 531.45,177.82 531.72,177.82 531.98,177.81 532.25,177.81 532.51,177.81 532.78,177.81 533.04,177.81 533.31,177.8 533.57,177.8 533.84,177.8 534.1,177.8 534.36,177.8 534.63,177.8 534.89,177.79 535.16,177.79 535.42,177.79 535.69,177.79 535.95,177.79 536.22,177.79 536.48,177.78 536.75,177.78 537.01,177.78 537.28,177.78 537.54,177.78 537.81,177.78 538.07,177.77 538.34,177.77 538.6,177.77 538.87,177.77 539.13,177.77 539.4,177.77 539.66,177.77 539.93,177.76 540.19,177.76 540.46,177.76 540.72,177.76 540.98,177.76 541.25,177.76 541.51,177.76 541.78,177.75 542.04,177.75 542.31,177.75 542.57,177.75 542.84,177.75 543.1,177.75 543.37,177.75 543.63,177.75 543.9,177.74 544.16,177.74 544.43,177.74 544.69,177.74 544.96,177.74 545.22,177.74 545.49,177.74 545.75,177.74 546.02,177.73 546.28,177.73 546.55,177.73 546.81,177.73 547.08,177.73 547.34,177.73 547.6,177.73 547.87,177.73 548.13,177.72 548.4,177.72 548.66,177.72 548.93,177.72 549.19,177.72 549.46,177.72 549.72,177.72 549.99,177.72 550.25,177.72 550.52,177.72 550.78,177.71 551.05,177.71 551.31,177.71 551.58,177.71 551.84,177.71 552.11,177.71 552.37,177.71 552.64,177.71 552.9,177.71 553.17,177.71 553.43,177.71 553.7,177.7 553.96,177.7 554.22,177.7 554.49,177.7 554.75,177.7 555.02,177.7 555.28,177.7 555.55,177.7 555.81,177.7 556.08,177.7 556.34,177.7 556.61,177.7 556.87,177.7 557.14,177.69 557.4,177.69 557.67,177.69 557.93,177.69 558.2,177.69 558.46,177.69 558.73,177.69 558.99,177.69 559.26,177.69 559.52,177.69 559.79,177.69 560.05,177.69 560.32,177.69 560.58,177.69 560.84,177.69 561.11,177.69 561.37,177.69 561.64,177.68 561.9,177.68 562.17,177.68 562.43,177.68 562.7,177.68 562.96,177.68 563.23,177.68 563.49,177.68 563.76,177.68 564.02,177.68 564.29,177.68 564.55,177.68 564.82,177.68 565.08,177.68 565.35,177.68 565.61,177.68 565.88,177.68 566.14,177.68 566.41,177.68 566.67,177.68 566.94,177.68 567.2,177.68 567.46,177.68 567.73,177.68 567.99,177.68 568.26,177.68 568.52,177.68 568.79,177.68 569.05,177.68 569.32,177.68 569.58,177.68 569.85,177.68 570.11,177.68 570.38,177.68 570.59,177.68 570.64,177.69 570.91,177.99 571.17,178.62 571.44,179.46 571.65,180.21 571.7,180.42 571.97,182.05 572.23,184.26 572.5,186.53 572.76,188.38 572.81,188.65 573.03,189.64 573.29,190.75 573.56,191.68 573.82,192.35 573.87,192.45 574.08,192.8 574.35,193.18 574.61,193.5 574.88,193.77 575.14,194.01 575.41,194.22 575.67,194.42 575.94,194.62 576.2,194.81 576.47,194.99 576.73,195.16 577,195.33 577.26,195.48 577.53,195.63 577.79,195.76 578.06,195.87 578.32,195.97 578.59,196.05 578.85,196.11 579.12,196.16 579.38,196.21 579.65,196.26 579.91,196.3 580.18,196.34 580.44,196.38 580.7,196.42 580.97,196.46 581.23,196.49 581.5,196.53 581.76,196.56 582.03,196.59 582.29,196.62 582.56,196.65 582.82,196.67 583.09,196.7 583.35,196.72 583.62,196.74 583.88,196.77 584.15,196.79 584.41,196.81 584.68,196.82 584.94,196.84 585.21,196.86 585.47,196.88 585.74,196.89 586,196.91 586.27,196.92 586.53,196.94 586.8,196.95 586.9,196.96 587.06,196.96 587.32,196.98 587.59,196.99 587.85,197 588.12,197.02 588.38,197.03 588.65,197.04 588.91,197.05 589.18,197.06 589.44,197.08 589.71,197.09 589.97,197.1 590.24,197.11 590.5,197.12 590.77,197.13 591.03,197.14 591.3,197.15 591.56,197.16 591.83,197.17 592.09,197.18 592.36,197.19 592.62,197.2 592.89,197.21 593.15,197.22 593.42,197.23 593.68,197.23 593.94,197.24 594.21,197.25 594.47,197.26 594.74,197.27 595,197.27 595.27,197.28 595.53,197.29 595.8,197.29 596.06,197.3 596.33,197.31 596.59,197.31 596.86,197.32 597.12,197.32 597.39,197.33 597.65,197.34 597.92,197.34 598.18,197.35 598.45,197.35 598.71,197.36 598.98,197.36 599.24,197.37 599.51,197.37 599.77,197.37 600.04,197.38 600.3,197.38 600.56,197.39 600.83,197.39 601.09,197.39 601.36,197.4 601.62,197.4 601.89,197.4 602.15,197.41 602.42,197.41 602.68,197.42 602.95,197.42 603.21,197.42 603.48,197.43 603.74,197.43 604.01,197.43 604.27,197.44 604.54,197.44 604.8,197.44 605.07,197.45 605.33,197.45 605.6,197.45 605.86,197.46 606.13,197.46 606.39,197.46 606.66,197.47 606.92,197.47 607.18,197.47 607.45,197.47 607.71,197.48 607.98,197.48 608.24,197.48 608.51,197.49 608.77,197.49 609.04,197.49 609.3,197.49 609.57,197.49 609.83,197.5 610.1,197.5 610.36,197.5 610.63,197.5 610.89,197.5 611.16,197.51 611.42,197.51 611.69,197.51 611.95,197.51 612.22,197.51 612.48,197.51 612.75,197.51 613.01,197.51 613.28,197.52 613.54,197.52 613.8,197.52 614.07,197.52 614.33,197.52 614.6,197.52 614.86,197.52 615.08,197.52 615.13,193.72 615.39,130.25 615.66,86.1 615.92,54.92 616.03,51.45 616.19,53.09 616.45,61.46 616.72,73.47 616.98,85.22 617.25,96.89 617.51,110.22 617.78,123.63 618.04,135.57 618.31,144.46 618.36,145.73 618.57,150.22 618.84,155.22 619.1,159.58 619.37,163.36 619.63,166.62 619.9,169.4 620.16,171.77 620.42,173.84 620.69,175.74 620.95,177.45 621.22,178.98 621.48,180.32 621.75,181.47 622.01,182.43 622.07,182.6 622.28,183.25 622.54,184.02 622.81,184.75 623.07,185.43 623.34,186.07 623.6,186.67 623.87,187.23 624.13,187.76 624.4,188.24 624.66,188.69 624.93,189.11 625.19,189.5 625.46,189.86 625.72,190.18 625.99,190.48 626.25,190.76 626.52,191.03 626.78,191.3 627.04,191.55 627.31,191.79 627.57,192.02 627.84,192.24 628.1,192.45 628.37,192.65 628.63,192.84 628.9,193.02 629.16,193.19 629.43,193.35 629.69,193.5 629.96,193.65 630.22,193.78 630.49,193.9 630.75,194.02 631.02,194.12 631.07,194.14 631.28,194.22 631.55,194.32 631.81,194.41 632.08,194.5 632.34,194.59 632.61,194.68 632.87,194.76 633.14,194.85 633.4,194.93 633.66,195.01 633.93,195.08 634.19,195.16 634.46,195.23 634.72,195.3 634.99,195.36 635.25,195.43 635.52,195.49 635.78,195.54 636.05,195.6 636.31,195.65 636.58,195.7 636.84,195.74 637.11,195.79 637.37,195.82 637.64,195.86 637.9,195.89 638.17,195.92 638.43,195.95 638.7,195.97 638.96,195.99 639.23,196.01 639.49,196.03 639.76,196.05 640.02,196.07 640.28,196.09 640.55,196.11 640.81,196.12 641.08,196.14 641.34,196.15 641.61,196.17 641.87,196.18 642.14,196.19 642.4,196.21 642.67,196.22 642.93,196.23 643.2,196.23 643.46,196.24 643.73,196.25 643.99,196.25 644.26,196.25 644.52,196.25 644.79,196.16 645.05,195.93 645.32,195.65 645.58,195.4 645.85,195.27 645.9,195.27 646.11,195.41 646.38,195.81 646.64,196.11 646.9,196.25 647.17,196.37 647.43,196.48 647.7,196.56 647.96,196.63 648.23,196.66 648.44,196.67 648.49,196.67 648.76,196.67 649.02,196.66 649.29,196.64 649.55,196.62 649.82,196.59 650.08,196.55 650.35,196.51 650.61,196.45 650.88,196.39 651.14,195.67 651.41,194.02 651.67,192.03 651.94,190.29 652.2,189.39 652.25,189.36 652.47,189.4 652.73,189.57 653,189.84 653.26,190.18 653.52,190.56 653.79,190.96 654.05,191.33 654.16,191.47 654.32,191.68 654.58,192.1 654.85,192.56 655.11,193.04 655.38,193.49 655.64,193.9 655.91,194.22 656.17,194.42 656.44,194.56 656.7,194.68 656.97,194.8 657.23,194.91 657.5,195.02 657.76,195.11 658.03,195.2 658.29,195.29 658.56,195.37 658.82,195.44 659.09,195.5 659.35,195.56 659.62,195.62 659.88,195.67 660.14,195.71 660.41,195.75 660.67,195.78 660.94,195.8 661.2,195.83 661.26,195.83 661.47,195.84 661.73,195.86 662,195.88 662.26,195.9 662.53,195.91 662.79,195.93 663.06,195.94 663.32,195.96 663.59,195.97 663.85,195.99 664.12,196 664.38,196.02 664.65,196.03 664.91,196.04 665.18,196.06 665.44,196.07 665.71,196.08 665.97,196.09 666.24,196.1 666.5,196.12 666.76,196.13 667.03,196.14 667.29,196.15 667.56,196.16 667.82,196.17 668.09,196.18 668.35,196.19 668.62,196.2 668.88,196.2 669.15,196.21 669.41,196.22 669.68,196.23 669.94,196.24 670.21,196.24 670.47,196.25 670.74,196.26 671,196.27 671.27,196.27 671.53,196.28 671.8,196.29 672.06,196.29 672.33,196.3 672.59,196.3 672.86,196.31 673.12,196.31 673.38,196.32 673.65,196.32 673.91,196.33 674.18,196.33 674.44,196.34 674.71,196.34 674.97,196.35 675.24,196.35 675.5,196.36 675.77,196.36 676.03,196.36 676.3,196.37 676.56,196.37 676.83,196.37 677.09,196.38 677.36,196.38 677.62,196.38 677.89,196.39 678.15,196.39 678.42,196.39 678.68,196.4 678.95,196.4 679.21,196.4 679.48,196.4 679.74,196.41 680,196.41 680.27,196.41 680.53,196.42 680.8,196.42 681.06,196.42 681.33,196.42 681.59,196.43 681.86,196.43 682.12,196.43 682.39,196.44 682.65,196.44 682.92,196.44 683.18,196.44 683.45,196.45 683.71,196.45 683.98,196.45 684.24,196.45 684.51,196.46 684.77,196.46 685.04,196.46 685.3,196.46 685.57,196.47 685.83,196.47 686.1,196.47 686.36,196.47 686.62,196.47 686.89,196.48 687.15,196.48 687.42,196.48 687.68,196.48 687.95,196.49 688.21,196.49 688.48,196.49 688.74,196.49 689.01,196.49 689.27,196.49 689.54,196.5 689.8,196.5 690.07,196.5 690.33,196.5 690.6,196.5 690.86,196.51 691.13,196.51 691.39,196.51 691.66,196.51 691.92,196.51 692.19,196.51 692.45,196.51 692.72,196.52 692.98,196.52 693.24,196.52 693.51,196.52 693.77,196.52 694.04,196.52 694.3,196.52 694.57,196.52 694.83,196.52 695.1,196.53 695.36,196.53 695.63,196.53 695.89,196.53 696.16,196.53 696.42,196.53 696.69,196.53 696.95,196.53 697.22,196.53 697.48,196.53 697.75,196.53 698.01,196.53 698.28,196.53 698.54,196.53 698.81,196.53 699.07,196.53 699.34,196.53 699.6,196.53" fill="none" stroke="#ee1414" stroke-width="1.45" stroke-linejoin="round" stroke-linecap="round"/>
<polyline points="434.8,197.8 435.06,197.8 435.33,197.8 435.59,197.8 435.86,197.8 436.12,197.8 436.39,197.8 436.65,197.8 436.92,197.8 437.18,197.8 437.45,197.8 437.71,197.8 437.98,197.8 438.24,197.8 438.51,197.8 438.77,197.8 439.04,197.8 439.3,197.8 439.57,197.8 439.83,197.8 440.1,197.8 440.36,197.8 440.63,197.8 440.89,197.8 441.16,197.8 441.42,197.8 441.68,197.8 441.95,197.8 442.21,197.8 442.48,197.8 442.74,197.8 443.01,197.8 443.27,197.8 443.54,197.8 443.8,197.8 444.07,197.8 444.33,197.8 444.6,197.8 444.86,197.8 445.13,197.8 445.39,197.8 445.66,197.8 445.92,197.8 446.19,197.8 446.45,197.8 446.72,197.8 446.98,197.8 447.25,197.8 447.51,197.8 447.78,197.8 448.04,197.8 448.3,197.8 448.57,197.8 448.83,197.8 449.1,197.8 449.36,197.8 449.63,197.8 449.73,197.8 449.89,197.76 450.16,197.53 450.42,197.17 450.69,196.74 450.9,196.39 450.95,196.31 451.22,195.78 451.48,195.14 451.75,194.42 452.01,193.67 452.28,192.93 452.54,192.25 452.81,191.66 452.91,191.47 453.07,191.2 453.34,190.76 453.6,190.34 453.87,189.94 454.13,189.56 454.4,189.19 454.66,188.85 454.92,188.53 455.19,188.22 455.45,187.94 455.72,187.67 455.98,187.43 456.2,187.25 456.25,187.2 456.51,186.99 456.78,186.79 457.04,186.6 457.31,186.42 457.57,186.25 457.84,186.09 458.1,185.93 458.37,185.78 458.63,185.64 458.9,185.51 459.16,185.38 459.43,185.25 459.69,185.14 459.96,185.02 460.22,184.91 460.49,184.8 460.75,184.69 461.02,184.59 461.28,184.49 461.54,184.39 461.81,184.3 462.07,184.21 462.34,184.12 462.6,184.04 462.87,183.96 463.13,183.88 463.4,183.81 463.66,183.73 463.93,183.67 464.19,183.6 464.25,183.59 464.46,183.54 464.72,183.47 464.99,183.41 465.25,183.35 465.52,183.29 465.78,183.23 466.05,183.17 466.31,183.11 466.58,183.05 466.84,182.99 467.11,182.94 467.37,182.88 467.64,182.83 467.9,182.78 468.16,182.73 468.43,182.68 468.69,182.63 468.96,182.58 469.22,182.54 469.49,182.5 469.75,182.46 470.02,182.42 470.28,182.38 470.55,182.35 470.81,182.31 471.08,182.28 471.34,182.26 471.61,182.23 471.87,182.21 472.14,182.19 472.3,182.18 472.4,182.17 472.67,182.16 472.93,182.14 473.2,182.13 473.46,182.11 473.73,182.09 473.99,182.08 474.26,182.06 474.52,182.05 474.78,182.04 475.05,182.02 475.31,182.01 475.58,181.99 475.84,181.98 476.11,181.97 476.37,181.96 476.64,181.94 476.9,181.93 477.17,181.92 477.43,181.91 477.7,181.9 477.96,181.89 478.23,181.87 478.49,181.86 478.76,181.85 479.02,181.84 479.29,181.83 479.55,181.82 479.82,181.81 480.08,181.8 480.35,181.8 480.61,181.79 480.88,181.78 481.14,181.77 481.4,181.76 481.67,181.75 481.93,181.75 482.2,181.74 482.46,181.73 482.73,181.72 482.99,181.72 483.26,181.71 483.52,181.7 483.79,181.7 484.05,181.69 484.32,181.68 484.58,181.68 484.85,181.67 485.11,181.67 485.38,181.66 485.64,181.66 485.91,181.65 486.17,181.65 486.44,181.64 486.7,181.64 486.97,181.64 487.23,181.63 487.5,181.63 487.76,181.63 488.02,181.62 488.29,181.62 488.5,181.62 488.55,181.62 488.82,181.61 489.08,181.61 489.35,181.61 489.61,181.61 489.88,181.6 490.14,181.6 490.41,181.6 490.67,181.59 490.94,181.59 491.2,181.59 491.47,181.59 491.73,181.58 492,181.58 492.26,181.58 492.53,181.58 492.79,181.57 493.06,181.57 493.32,181.57 493.59,181.56 493.85,181.56 494.12,181.56 494.38,181.56 494.64,181.55 494.91,181.55 495.17,181.55 495.44,181.55 495.7,181.54 495.97,181.54 496.23,181.54 496.5,181.54 496.76,181.53 497.03,181.53 497.29,181.53 497.56,181.53 497.82,181.52 498.09,181.52 498.35,181.52 498.62,181.52 498.88,181.51 499.15,181.51 499.41,181.51 499.68,181.51 499.94,181.5 500.21,181.5 500.47,181.5 500.74,181.5 501,181.5 501.26,181.49 501.53,181.49 501.79,181.49 502.06,181.49 502.32,181.48 502.59,181.48 502.85,181.48 503.12,181.48 503.38,181.47 503.65,181.47 503.91,181.47 504.18,181.47 504.44,181.47 504.71,181.46 504.97,181.46 505.24,181.46 505.5,181.46 505.77,181.45 506.03,181.45 506.3,181.45 506.56,181.45 506.83,181.45 507.09,181.44 507.36,181.44 507.62,181.44 507.88,181.44 508.15,181.44 508.41,181.43 508.68,181.43 508.94,181.43 509.21,181.43 509.47,181.42 509.74,181.42 510,181.42 510.27,181.42 510.53,181.42 510.8,181.41 511.06,181.41 511.33,181.41 511.59,181.41 511.86,181.41 512.12,181.41 512.39,181.4 512.65,181.4 512.92,181.4 513.18,181.4 513.45,181.4 513.71,181.39 513.98,181.39 514.24,181.39 514.5,181.39 514.77,181.39 515.03,181.38 515.3,181.38 515.56,181.38 515.83,181.38 516.09,181.38 516.36,181.38 516.62,181.37 516.89,181.37 517.15,181.37 517.42,181.37 517.68,181.37 517.95,181.36 518.21,181.36 518.48,181.36 518.74,181.36 519.01,181.36 519.27,181.36 519.54,181.35 519.8,181.35 520.07,181.35 520.33,181.35 520.6,181.35 520.86,181.35 521.12,181.34 521.39,181.34 521.65,181.34 521.92,181.34 522.18,181.34 522.45,181.34 522.71,181.33 522.98,181.33 523.24,181.33 523.51,181.33 523.77,181.33 524.04,181.33 524.3,181.33 524.57,181.32 524.83,181.32 525.1,181.32 525.36,181.32 525.63,181.32 525.89,181.32 526.16,181.32 526.42,181.31 526.69,181.31 526.95,181.31 527.22,181.31 527.48,181.31 527.74,181.31 528.01,181.31 528.27,181.3 528.54,181.3 528.8,181.3 529.07,181.3 529.33,181.3 529.6,181.3 529.86,181.3 530.13,181.29 530.39,181.29 530.66,181.29 530.92,181.29 531.19,181.29 531.45,181.29 531.72,181.29 531.98,181.29 532.25,181.28 532.51,181.28 532.78,181.28 533.04,181.28 533.31,181.28 533.57,181.28 533.84,181.28 534.1,181.28 534.36,181.27 534.63,181.27 534.89,181.27 535.16,181.27 535.42,181.27 535.69,181.27 535.95,181.27 536.22,181.27 536.48,181.27 536.75,181.26 537.01,181.26 537.28,181.26 537.54,181.26 537.81,181.26 538.07,181.26 538.34,181.26 538.6,181.26 538.87,181.26 539.13,181.26 539.4,181.25 539.66,181.25 539.93,181.25 540.19,181.25 540.46,181.25 540.72,181.25 540.98,181.25 541.25,181.25 541.51,181.25 541.78,181.25 542.04,181.24 542.31,181.24 542.57,181.24 542.84,181.24 543.1,181.24 543.37,181.24 543.63,181.24 543.9,181.24 544.16,181.24 544.43,181.24 544.69,181.24 544.96,181.24 545.22,181.23 545.49,181.23 545.75,181.23 546.02,181.23 546.28,181.23 546.55,181.23 546.81,181.23 547.08,181.23 547.34,181.23 547.6,181.23 547.87,181.23 548.13,181.23 548.4,181.23 548.66,181.22 548.93,181.22 549.19,181.22 549.46,181.22 549.72,181.22 549.99,181.22 550.25,181.22 550.52,181.22 550.78,181.22 551.05,181.22 551.31,181.22 551.58,181.22 551.84,181.22 552.11,181.22 552.37,181.22 552.64,181.21 552.9,181.21 553.17,181.21 553.43,181.21 553.7,181.21 553.96,181.21 554.22,181.21 554.49,181.21 554.75,181.21 555.02,181.21 555.28,181.21 555.55,181.21 555.81,181.21 556.08,181.21 556.34,181.21 556.61,181.21 556.87,181.21 557.14,181.21 557.4,181.21 557.67,181.21 557.93,181.21 558.2,181.2 558.46,181.2 558.73,181.2 558.99,181.2 559.26,181.2 559.52,181.2 559.79,181.2 560.05,181.2 560.32,181.2 560.58,181.2 560.84,181.2 561.11,181.2 561.37,181.2 561.64,181.2 561.9,181.2 562.17,181.2 562.43,181.2 562.7,181.2 562.96,181.2 563.23,181.2 563.49,181.2 563.76,181.2 564.02,181.2 564.29,181.2 564.55,181.2 564.82,181.2 565.08,181.2 565.35,181.2 565.61,181.2 565.88,181.2 566.14,181.2 566.41,181.2 566.67,181.2 566.94,181.2 567.2,181.2 567.46,181.2 567.73,181.2 567.99,181.2 568.26,181.2 568.52,181.2 568.79,181.2 569.05,181.2 569.32,181.2 569.58,181.2 569.85,181.2 570.11,181.2 570.38,181.2 570.64,181.2 570.91,181.2 571.17,181.2 571.33,181.2 571.44,181.28 571.7,182.05 571.97,183.24 572.07,183.73 572.23,184.61 572.5,186.55 572.76,188.49 572.92,189.36 573.03,189.81 573.29,190.85 573.56,191.72 573.82,192.36 573.87,192.45 574.08,192.8 574.35,193.17 574.61,193.5 574.88,193.78 575.14,194.02 575.41,194.23 575.67,194.42 575.94,194.6 576.2,194.78 576.47,194.95 576.73,195.11 577,195.26 577.26,195.4 577.53,195.53 577.79,195.64 578.06,195.75 578.32,195.84 578.59,195.91 578.85,195.97 579.12,196.02 579.38,196.07 579.65,196.11 579.91,196.16 580.18,196.2 580.44,196.24 580.7,196.27 580.97,196.31 581.23,196.35 581.5,196.38 581.76,196.41 582.03,196.44 582.29,196.47 582.56,196.5 582.82,196.52 583.09,196.55 583.35,196.57 583.62,196.59 583.88,196.61 584.15,196.64 584.41,196.66 584.68,196.67 584.94,196.69 585.21,196.71 585.47,196.73 585.74,196.75 586,196.76 586.27,196.78 586.53,196.79 586.8,196.81 586.9,196.81 587.06,196.82 587.32,196.84 587.59,196.85 587.85,196.87 588.12,196.88 588.38,196.9 588.65,196.91 588.91,196.93 589.18,196.94 589.44,196.95 589.71,196.97 589.97,196.98 590.24,196.99 590.5,197 590.77,197.02 591.03,197.03 591.3,197.04 591.56,197.05 591.83,197.06 592.09,197.08 592.36,197.09 592.62,197.1 592.89,197.11 593.15,197.12 593.42,197.13 593.68,197.14 593.94,197.15 594.21,197.16 594.47,197.17 594.74,197.18 595,197.19 595.27,197.19 595.53,197.2 595.8,197.21 596.06,197.22 596.33,197.23 596.59,197.23 596.86,197.24 597.12,197.25 597.39,197.25 597.65,197.26 597.92,197.27 598.18,197.27 598.45,197.28 598.71,197.28 598.98,197.29 599.24,197.29 599.51,197.3 599.77,197.3 600.04,197.31 600.3,197.31 600.56,197.32 600.83,197.32 601.09,197.32 601.36,197.33 601.62,197.33 601.89,197.33 602.15,197.34 602.42,197.34 602.68,197.35 602.95,197.35 603.21,197.35 603.48,197.36 603.74,197.36 604.01,197.36 604.27,197.37 604.54,197.37 604.8,197.37 605.07,197.38 605.33,197.38 605.6,197.38 605.86,197.39 606.13,197.39 606.39,197.39 606.66,197.4 606.92,197.4 607.18,197.4 607.45,197.41 607.71,197.41 607.98,197.41 608.24,197.41 608.51,197.42 608.77,197.42 609.04,197.42 609.3,197.42 609.57,197.42 609.83,197.43 610.1,197.43 610.36,197.43 610.63,197.43 610.89,197.43 611.16,197.44 611.42,197.44 611.69,197.44 611.95,197.44 612.22,197.44 612.48,197.44 612.75,197.44 613.01,197.44 613.28,197.45 613.54,197.45 613.8,197.45 614.07,197.45 614.33,197.45 614.6,197.45 614.86,197.45 615.08,197.45 615.13,193.46 615.39,127.44 615.66,83.31 615.92,52.6 616.03,49.2 616.19,50.56 616.45,57.57 616.72,67.81 616.98,78.19 617.25,89.23 617.51,102.39 617.78,115.94 618.04,128.17 618.31,137.37 618.36,138.7 618.57,143.36 618.84,148.55 619.1,153.09 619.37,157.05 619.63,160.51 619.9,163.51 620.16,166.14 620.42,168.51 620.69,170.7 620.95,172.69 621.22,174.49 621.48,176.08 621.75,177.45 622.01,178.6 622.07,178.8 622.28,179.58 622.54,180.49 622.81,181.36 623.07,182.17 623.34,182.93 623.6,183.65 623.87,184.32 624.13,184.94 624.4,185.53 624.66,186.07 624.93,186.57 625.19,187.04 625.46,187.47 625.72,187.87 625.99,188.23 626.25,188.57 626.52,188.9 626.78,189.22 627.04,189.52 627.31,189.81 627.57,190.09 627.84,190.36 628.1,190.61 628.37,190.85 628.63,191.08 628.9,191.3 629.16,191.51 629.43,191.71 629.69,191.9 629.96,192.08 630.22,192.25 630.49,192.41 630.75,192.56 631.02,192.71 631.07,192.73 631.28,192.84 631.55,192.98 631.81,193.11 632.08,193.24 632.34,193.36 632.61,193.49 632.87,193.61 633.14,193.72 633.4,193.84 633.66,193.95 633.93,194.06 634.19,194.16 634.46,194.27 634.72,194.37 634.99,194.46 635.25,194.55 635.52,194.64 635.78,194.73 636.05,194.81 636.31,194.89 636.58,194.96 636.84,195.03 637.11,195.1 637.37,195.16 637.64,195.22 637.9,195.27 638.17,195.32 638.43,195.37 638.7,195.41 638.96,195.45 639.23,195.49 639.49,195.52 639.76,195.56 640.02,195.6 640.28,195.63 640.55,195.67 640.81,195.7 641.08,195.74 641.34,195.77 641.61,195.8 641.87,195.82 642.14,195.85 642.4,195.87 642.67,195.9 642.93,195.91 643.2,195.93 643.46,195.94 643.73,195.96 643.99,195.96 644.26,195.97 644.52,195.97 644.79,195.83 645.05,195.48 645.32,195.06 645.37,194.99 645.58,194.53 645.85,194.02 645.9,194 646.11,194.4 646.38,195.35 646.53,195.69 646.64,195.78 646.9,195.98 647.17,196.15 647.43,196.29 647.7,196.4 647.96,196.48 648.23,196.52 648.44,196.53 648.49,196.53 648.76,196.53 649.02,196.51 649.29,196.49 649.55,196.45 649.82,196.41 650.08,196.35 650.35,196.28 650.61,196.2 650.88,196.11 651.14,195.23 651.41,193.25 651.67,190.87 651.94,188.79 652.2,187.7 652.25,187.67 652.47,187.74 652.73,187.99 653,188.4 653.26,188.9 653.52,189.46 653.79,190.03 654.05,190.57 654.16,190.76 654.32,191.07 654.58,191.65 654.85,192.3 655.11,192.95 655.38,193.57 655.64,194.1 655.91,194.49 656.17,194.7 656.44,194.81 656.7,194.9 656.97,194.99 657.23,195.07 657.5,195.14 657.76,195.21 658.03,195.27 658.29,195.33 658.56,195.38 658.82,195.43 659.09,195.47 659.35,195.51 659.62,195.54 659.88,195.57 660.14,195.6 660.41,195.63 660.67,195.65 660.94,195.67 661.2,195.69 661.26,195.69 661.47,195.7 661.73,195.72 662,195.74 662.26,195.75 662.53,195.77 662.79,195.78 663.06,195.8 663.32,195.81 663.59,195.83 663.85,195.84 664.12,195.85 664.38,195.87 664.65,195.88 664.91,195.89 665.18,195.91 665.44,195.92 665.71,195.93 665.97,195.94 666.24,195.95 666.5,195.96 666.76,195.98 667.03,195.99 667.29,196 667.56,196.01 667.82,196.02 668.09,196.03 668.35,196.04 668.62,196.05 668.88,196.05 669.15,196.06 669.41,196.07 669.68,196.08 669.94,196.09 670.21,196.1 670.47,196.1 670.74,196.11 671,196.12 671.27,196.12 671.53,196.13 671.8,196.14 672.06,196.14 672.33,196.15 672.59,196.16 672.86,196.16 673.12,196.17 673.38,196.17 673.65,196.18 673.91,196.18 674.18,196.19 674.44,196.19 674.71,196.2 674.97,196.2 675.24,196.21 675.5,196.21 675.77,196.22 676.03,196.22 676.3,196.22 676.56,196.23 676.83,196.23 677.09,196.24 677.36,196.24 677.62,196.24 677.89,196.25 678.15,196.25 678.42,196.25 678.68,196.26 678.95,196.26 679.21,196.26 679.48,196.26 679.74,196.27 680,196.27 680.27,196.27 680.53,196.28 680.8,196.28 681.06,196.28 681.33,196.28 681.59,196.29 681.86,196.29 682.12,196.29 682.39,196.29 682.65,196.3 682.92,196.3 683.18,196.3 683.45,196.31 683.71,196.31 683.98,196.31 684.24,196.31 684.51,196.32 684.77,196.32 685.04,196.32 685.3,196.32 685.57,196.32 685.83,196.33 686.1,196.33 686.36,196.33 686.62,196.33 686.89,196.34 687.15,196.34 687.42,196.34 687.68,196.34 687.95,196.34 688.21,196.35 688.48,196.35 688.74,196.35 689.01,196.35 689.27,196.35 689.54,196.36 689.8,196.36 690.07,196.36 690.33,196.36 690.6,196.36 690.86,196.36 691.13,196.37 691.39,196.37 691.66,196.37 691.92,196.37 692.19,196.37 692.45,196.37 692.72,196.37 692.98,196.38 693.24,196.38 693.51,196.38 693.77,196.38 694.04,196.38 694.3,196.38 694.57,196.38 694.83,196.38 695.1,196.38 695.36,196.39 695.63,196.39 695.89,196.39 696.16,196.39 696.42,196.39 696.69,196.39 696.95,196.39 697.22,196.39 697.48,196.39 697.75,196.39 698.01,196.39 698.28,196.39 698.54,196.39 698.81,196.39 699.07,196.39 699.34,196.39 699.6,196.39" fill="none" stroke="#1414ee" stroke-width="1.45" stroke-linejoin="round" stroke-linecap="round"/>
<line x1="449.3" y1="31.5" x2="462.1" y2="31.5" stroke="#1414ee" stroke-width="1.3" stroke-linecap="butt"/>
<text x="468.9" y="34.6" font-size="9.55" text-anchor="start" fill="#000000">UV280</text>
<line x1="449.3" y1="47.4" x2="462.1" y2="47.4" stroke="#ee1414" stroke-width="1.3" stroke-linecap="butt"/>
<text x="468.9" y="50.5" font-size="9.55" text-anchor="start" fill="#000000">UV260</text>
<line x1="449.3" y1="61.9" x2="462.1" y2="61.9" stroke="#1e9a6c" stroke-width="1.3" stroke-linecap="butt"/>
<text x="468.9" y="65" font-size="9.55" text-anchor="start" fill="#000000">Conductivity</text>
<text x="389.5" y="14.4" font-size="14.5" text-anchor="start" font-weight="bold" fill="#111">B</text>
<text x="400" y="108.6" font-size="12.85" text-anchor="middle" fill="#000000" transform="rotate(-90 400 108.6)">UV Absorbance (mAU)</text>
<text x="732.4" y="109.3" font-size="12.9" text-anchor="middle" fill="#000000" transform="rotate(90 732.4 109.3)">Conductivity (mS/cm)</text>
<text x="566.5" y="228.6" font-size="12.6" text-anchor="middle" fill="#000000">Column Volumes (CV)</text>
<line x1="43.4" y1="277.7" x2="43.4" y2="447.2" stroke="#7a7a7a" stroke-width="1.2" stroke-linecap="butt"/>
<line x1="369.4" y1="277.7" x2="369.4" y2="447.2" stroke="#7a7a7a" stroke-width="1.2" stroke-linecap="butt"/>
<line x1="43.4" y1="447.2" x2="369.4" y2="447.2" stroke="#555" stroke-width="1.1" stroke-linecap="butt"/>
<line x1="38.9" y1="447.2" x2="43.4" y2="447.2" stroke="#666" stroke-width="1" stroke-linecap="butt"/>
<text x="37.2" y="450.3" font-size="8.6" text-anchor="end" font-weight="bold" fill="#000000">0</text>
<line x1="369.4" y1="447.2" x2="373.9" y2="447.2" stroke="#666" stroke-width="1" stroke-linecap="butt"/>
<text x="375.6" y="450.3" font-size="8.6" text-anchor="start" font-weight="bold" fill="#000000">0.0</text>
<line x1="41.2" y1="440.42" x2="43.4" y2="440.42" stroke="#777" stroke-width="1" stroke-linecap="butt"/>
<line x1="369.4" y1="440.42" x2="371.6" y2="440.42" stroke="#777" stroke-width="1" stroke-linecap="butt"/>
<line x1="41.2" y1="433.64" x2="43.4" y2="433.64" stroke="#777" stroke-width="1" stroke-linecap="butt"/>
<line x1="369.4" y1="433.64" x2="371.6" y2="433.64" stroke="#777" stroke-width="1" stroke-linecap="butt"/>
<line x1="41.2" y1="426.86" x2="43.4" y2="426.86" stroke="#777" stroke-width="1" stroke-linecap="butt"/>
<line x1="369.4" y1="426.86" x2="371.6" y2="426.86" stroke="#777" stroke-width="1" stroke-linecap="butt"/>
<line x1="41.2" y1="420.08" x2="43.4" y2="420.08" stroke="#777" stroke-width="1" stroke-linecap="butt"/>
<line x1="369.4" y1="420.08" x2="371.6" y2="420.08" stroke="#777" stroke-width="1" stroke-linecap="butt"/>
<line x1="38.9" y1="413.3" x2="43.4" y2="413.3" stroke="#666" stroke-width="1" stroke-linecap="butt"/>
<text x="37.2" y="416.4" font-size="8.6" text-anchor="end" font-weight="bold" fill="#000000">20</text>
<line x1="369.4" y1="413.3" x2="373.9" y2="413.3" stroke="#666" stroke-width="1" stroke-linecap="butt"/>
<text x="375.6" y="416.4" font-size="8.6" text-anchor="start" font-weight="bold" fill="#000000">0.3</text>
<line x1="41.2" y1="406.52" x2="43.4" y2="406.52" stroke="#777" stroke-width="1" stroke-linecap="butt"/>
<line x1="369.4" y1="406.52" x2="371.6" y2="406.52" stroke="#777" stroke-width="1" stroke-linecap="butt"/>
<line x1="41.2" y1="399.74" x2="43.4" y2="399.74" stroke="#777" stroke-width="1" stroke-linecap="butt"/>
<line x1="369.4" y1="399.74" x2="371.6" y2="399.74" stroke="#777" stroke-width="1" stroke-linecap="butt"/>
<line x1="41.2" y1="392.96" x2="43.4" y2="392.96" stroke="#777" stroke-width="1" stroke-linecap="butt"/>
<line x1="369.4" y1="392.96" x2="371.6" y2="392.96" stroke="#777" stroke-width="1" stroke-linecap="butt"/>
<line x1="41.2" y1="386.18" x2="43.4" y2="386.18" stroke="#777" stroke-width="1" stroke-linecap="butt"/>
<line x1="369.4" y1="386.18" x2="371.6" y2="386.18" stroke="#777" stroke-width="1" stroke-linecap="butt"/>
<line x1="38.9" y1="379.4" x2="43.4" y2="379.4" stroke="#666" stroke-width="1" stroke-linecap="butt"/>
<text x="37.2" y="382.5" font-size="8.6" text-anchor="end" font-weight="bold" fill="#000000">40</text>
<line x1="369.4" y1="379.4" x2="373.9" y2="379.4" stroke="#666" stroke-width="1" stroke-linecap="butt"/>
<text x="375.6" y="382.5" font-size="8.6" text-anchor="start" font-weight="bold" fill="#000000">0.6</text>
<line x1="41.2" y1="372.62" x2="43.4" y2="372.62" stroke="#777" stroke-width="1" stroke-linecap="butt"/>
<line x1="369.4" y1="372.62" x2="371.6" y2="372.62" stroke="#777" stroke-width="1" stroke-linecap="butt"/>
<line x1="41.2" y1="365.84" x2="43.4" y2="365.84" stroke="#777" stroke-width="1" stroke-linecap="butt"/>
<line x1="369.4" y1="365.84" x2="371.6" y2="365.84" stroke="#777" stroke-width="1" stroke-linecap="butt"/>
<line x1="41.2" y1="359.06" x2="43.4" y2="359.06" stroke="#777" stroke-width="1" stroke-linecap="butt"/>
<line x1="369.4" y1="359.06" x2="371.6" y2="359.06" stroke="#777" stroke-width="1" stroke-linecap="butt"/>
<line x1="41.2" y1="352.28" x2="43.4" y2="352.28" stroke="#777" stroke-width="1" stroke-linecap="butt"/>
<line x1="369.4" y1="352.28" x2="371.6" y2="352.28" stroke="#777" stroke-width="1" stroke-linecap="butt"/>
<line x1="38.9" y1="345.5" x2="43.4" y2="345.5" stroke="#666" stroke-width="1" stroke-linecap="butt"/>
<text x="37.2" y="348.6" font-size="8.6" text-anchor="end" font-weight="bold" fill="#000000">60</text>
<line x1="369.4" y1="345.5" x2="373.9" y2="345.5" stroke="#666" stroke-width="1" stroke-linecap="butt"/>
<text x="375.6" y="348.6" font-size="8.6" text-anchor="start" font-weight="bold" fill="#000000">0.9</text>
<line x1="41.2" y1="338.72" x2="43.4" y2="338.72" stroke="#777" stroke-width="1" stroke-linecap="butt"/>
<line x1="369.4" y1="338.72" x2="371.6" y2="338.72" stroke="#777" stroke-width="1" stroke-linecap="butt"/>
<line x1="41.2" y1="331.94" x2="43.4" y2="331.94" stroke="#777" stroke-width="1" stroke-linecap="butt"/>
<line x1="369.4" y1="331.94" x2="371.6" y2="331.94" stroke="#777" stroke-width="1" stroke-linecap="butt"/>
<line x1="41.2" y1="325.16" x2="43.4" y2="325.16" stroke="#777" stroke-width="1" stroke-linecap="butt"/>
<line x1="369.4" y1="325.16" x2="371.6" y2="325.16" stroke="#777" stroke-width="1" stroke-linecap="butt"/>
<line x1="41.2" y1="318.38" x2="43.4" y2="318.38" stroke="#777" stroke-width="1" stroke-linecap="butt"/>
<line x1="369.4" y1="318.38" x2="371.6" y2="318.38" stroke="#777" stroke-width="1" stroke-linecap="butt"/>
<line x1="38.9" y1="311.6" x2="43.4" y2="311.6" stroke="#666" stroke-width="1" stroke-linecap="butt"/>
<text x="37.2" y="314.7" font-size="8.6" text-anchor="end" font-weight="bold" fill="#000000">80</text>
<line x1="369.4" y1="311.6" x2="373.9" y2="311.6" stroke="#666" stroke-width="1" stroke-linecap="butt"/>
<text x="375.6" y="314.7" font-size="8.6" text-anchor="start" font-weight="bold" fill="#000000">1.2</text>
<line x1="41.2" y1="304.82" x2="43.4" y2="304.82" stroke="#777" stroke-width="1" stroke-linecap="butt"/>
<line x1="369.4" y1="304.82" x2="371.6" y2="304.82" stroke="#777" stroke-width="1" stroke-linecap="butt"/>
<line x1="41.2" y1="298.04" x2="43.4" y2="298.04" stroke="#777" stroke-width="1" stroke-linecap="butt"/>
<line x1="369.4" y1="298.04" x2="371.6" y2="298.04" stroke="#777" stroke-width="1" stroke-linecap="butt"/>
<line x1="41.2" y1="291.26" x2="43.4" y2="291.26" stroke="#777" stroke-width="1" stroke-linecap="butt"/>
<line x1="369.4" y1="291.26" x2="371.6" y2="291.26" stroke="#777" stroke-width="1" stroke-linecap="butt"/>
<line x1="41.2" y1="284.48" x2="43.4" y2="284.48" stroke="#777" stroke-width="1" stroke-linecap="butt"/>
<line x1="369.4" y1="284.48" x2="371.6" y2="284.48" stroke="#777" stroke-width="1" stroke-linecap="butt"/>
<line x1="38.9" y1="277.7" x2="43.4" y2="277.7" stroke="#666" stroke-width="1" stroke-linecap="butt"/>
<text x="37.2" y="280.8" font-size="8.6" text-anchor="end" font-weight="bold" fill="#000000">100</text>
<line x1="369.4" y1="277.7" x2="373.9" y2="277.7" stroke="#666" stroke-width="1" stroke-linecap="butt"/>
<text x="375.6" y="280.8" font-size="8.6" text-anchor="start" font-weight="bold" fill="#000000">1.5</text>
<rect x="54.5" y="419.06" width="22.6" height="28.14" fill="#007b00" stroke="#005000" stroke-width="0.8"/>
<line x1="65.8" y1="413.64" x2="65.8" y2="424.32" stroke="#080808" stroke-width="1.4" stroke-linecap="butt"/>
<line x1="60.4" y1="413.64" x2="71.2" y2="413.64" stroke="#080808" stroke-width="1.4" stroke-linecap="butt"/>
<line x1="60.4" y1="424.32" x2="71.2" y2="424.32" stroke="#080808" stroke-width="1.4" stroke-linecap="butt"/>
<line x1="65.8" y1="447.2" x2="65.8" y2="451.5" stroke="#666" stroke-width="1" stroke-linecap="butt"/>
<text x="65.8" y="462.7" font-size="10.6" text-anchor="middle" font-weight="bold" fill="#000000">Std-Q</text>
<rect x="88.1" y="373.47" width="22.6" height="73.73" fill="#007b00" stroke="#005000" stroke-width="0.8"/>
<line x1="99.4" y1="369.57" x2="99.4" y2="377.37" stroke="#080808" stroke-width="1.4" stroke-linecap="butt"/>
<line x1="94" y1="369.57" x2="104.8" y2="369.57" stroke="#080808" stroke-width="1.4" stroke-linecap="butt"/>
<line x1="94" y1="377.37" x2="104.8" y2="377.37" stroke="#080808" stroke-width="1.4" stroke-linecap="butt"/>
<line x1="99.4" y1="447.2" x2="99.4" y2="451.5" stroke="#666" stroke-width="1" stroke-linecap="butt"/>
<text x="99.4" y="462.7" font-size="10.6" text-anchor="middle" font-weight="bold" fill="#000000">QR2</text>
<rect x="121.9" y="362.11" width="22.6" height="85.09" fill="#007b00" stroke="#005000" stroke-width="0.8"/>
<line x1="133.2" y1="359.91" x2="133.2" y2="364.82" stroke="#080808" stroke-width="1.4" stroke-linecap="butt"/>
<line x1="127.8" y1="359.91" x2="138.6" y2="359.91" stroke="#080808" stroke-width="1.4" stroke-linecap="butt"/>
<line x1="127.8" y1="364.82" x2="138.6" y2="364.82" stroke="#080808" stroke-width="1.4" stroke-linecap="butt"/>
<line x1="133.2" y1="447.2" x2="133.2" y2="451.5" stroke="#666" stroke-width="1" stroke-linecap="butt"/>
<text x="133.2" y="462.7" font-size="10.6" text-anchor="middle" font-weight="bold" fill="#000000">DR2</text>
<rect x="161.1" y="393.81" width="22.6" height="53.39" fill="url(#hatchG)" stroke="#8a9a8a" stroke-width="0.8"/>
<line x1="172.4" y1="389.74" x2="172.4" y2="397.54" stroke="#080808" stroke-width="1.4" stroke-linecap="butt"/>
<line x1="167" y1="389.74" x2="177.8" y2="389.74" stroke="#080808" stroke-width="1.4" stroke-linecap="butt"/>
<line x1="167" y1="397.54" x2="177.8" y2="397.54" stroke="#080808" stroke-width="1.4" stroke-linecap="butt"/>
<line x1="172.4" y1="447.2" x2="172.4" y2="451.5" stroke="#666" stroke-width="1" stroke-linecap="butt"/>
<text x="172.4" y="462.7" font-size="10.6" text-anchor="middle" font-weight="bold" fill="#000000">Std-Q</text>
<rect x="195" y="337.36" width="22.6" height="109.84" fill="url(#hatchG)" stroke="#8a9a8a" stroke-width="0.8"/>
<line x1="206.3" y1="333.97" x2="206.3" y2="340.58" stroke="#080808" stroke-width="1.4" stroke-linecap="butt"/>
<line x1="200.9" y1="333.97" x2="211.7" y2="333.97" stroke="#080808" stroke-width="1.4" stroke-linecap="butt"/>
<line x1="200.9" y1="340.58" x2="211.7" y2="340.58" stroke="#080808" stroke-width="1.4" stroke-linecap="butt"/>
<line x1="206.3" y1="447.2" x2="206.3" y2="451.5" stroke="#666" stroke-width="1" stroke-linecap="butt"/>
<text x="206.3" y="462.7" font-size="10.6" text-anchor="middle" font-weight="bold" fill="#000000">QR2</text>
<rect x="228.5" y="329.06" width="22.6" height="118.14" fill="url(#hatchG)" stroke="#8a9a8a" stroke-width="0.8"/>
<line x1="239.8" y1="314.14" x2="239.8" y2="343.64" stroke="#080808" stroke-width="1.4" stroke-linecap="butt"/>
<line x1="234.4" y1="314.14" x2="245.2" y2="314.14" stroke="#080808" stroke-width="1.4" stroke-linecap="butt"/>
<line x1="234.4" y1="343.64" x2="245.2" y2="343.64" stroke="#080808" stroke-width="1.4" stroke-linecap="butt"/>
<line x1="239.8" y1="447.2" x2="239.8" y2="451.5" stroke="#666" stroke-width="1" stroke-linecap="butt"/>
<text x="239.8" y="462.7" font-size="10.6" text-anchor="middle" font-weight="bold" fill="#000000">DR2</text>
<rect x="268.2" y="392.79" width="22.6" height="54.41" fill="#5f5f5f" stroke="#3a3a3a" stroke-width="0.8"/>
<line x1="279.5" y1="387.71" x2="279.5" y2="398.04" stroke="#080808" stroke-width="1.4" stroke-linecap="butt"/>
<line x1="274.1" y1="387.71" x2="284.9" y2="387.71" stroke="#080808" stroke-width="1.4" stroke-linecap="butt"/>
<line x1="274.1" y1="398.04" x2="284.9" y2="398.04" stroke="#080808" stroke-width="1.4" stroke-linecap="butt"/>
<line x1="279.5" y1="447.2" x2="279.5" y2="451.5" stroke="#666" stroke-width="1" stroke-linecap="butt"/>
<text x="279.5" y="462.7" font-size="10.6" text-anchor="middle" font-weight="bold" fill="#000000">Std-Q</text>
<rect x="301.5" y="330.08" width="22.6" height="117.12" fill="#5f5f5f" stroke="#3a3a3a" stroke-width="0.8"/>
<line x1="312.8" y1="327.36" x2="312.8" y2="331.77" stroke="#080808" stroke-width="1.4" stroke-linecap="butt"/>
<line x1="307.4" y1="327.36" x2="318.2" y2="327.36" stroke="#080808" stroke-width="1.4" stroke-linecap="butt"/>
<line x1="307.4" y1="331.77" x2="318.2" y2="331.77" stroke="#080808" stroke-width="1.4" stroke-linecap="butt"/>
<line x1="312.8" y1="447.2" x2="312.8" y2="451.5" stroke="#666" stroke-width="1" stroke-linecap="butt"/>
<text x="312.8" y="462.7" font-size="10.6" text-anchor="middle" font-weight="bold" fill="#000000">QR2</text>
<rect x="335.1" y="332.45" width="22.6" height="114.75" fill="#5f5f5f" stroke="#3a3a3a" stroke-width="0.8"/>
<line x1="346.4" y1="330.08" x2="346.4" y2="333.97" stroke="#080808" stroke-width="1.4" stroke-linecap="butt"/>
<line x1="341" y1="330.08" x2="351.8" y2="330.08" stroke="#080808" stroke-width="1.4" stroke-linecap="butt"/>
<line x1="341" y1="333.97" x2="351.8" y2="333.97" stroke="#080808" stroke-width="1.4" stroke-linecap="butt"/>
<line x1="346.4" y1="447.2" x2="346.4" y2="451.5" stroke="#666" stroke-width="1" stroke-linecap="butt"/>
<text x="346.4" y="462.7" font-size="10.6" text-anchor="middle" font-weight="bold" fill="#000000">DR2</text>
<rect x="49.8" y="277.4" width="13.1" height="6.4" fill="#007b00" stroke="#005000" stroke-width="0.6"/>
<rect x="49.8" y="292.9" width="13.1" height="6.4" fill="#5f5f5f" stroke="#3a3a3a" stroke-width="0.6"/>
<rect x="147.3" y="277.4" width="13.4" height="6.4" fill="url(#hatchG)" stroke="#8a9a8a" stroke-width="0.6"/>
<text x="69.8" y="283.5" font-size="9.35" text-anchor="start" fill="#000000">Recovery (TU %)</text>
<text x="167.6" y="283.5" font-size="9.3" text-anchor="start" fill="#000000">Recovery (p24 %)</text>
<text x="69.8" y="299.2" font-size="9.3" text-anchor="start" fill="#000000">Total&#160; DNA Clearance</text>
<text x="3.4" y="272.5" font-size="14" text-anchor="start" font-weight="bold" fill="#111">C</text>
<text x="16.9" y="362.6" font-size="12.6" text-anchor="middle" fill="#000000" transform="rotate(-90 16.9 362.6)">Recovery (%)</text>
<text x="394.2" y="362" font-size="12.6" text-anchor="middle" fill="#000000" transform="rotate(90 394.2 362)">Log<tspan font-size="8.7" dy="2.7">10</tspan><tspan dy="-2.7"> Reduction</tspan></text>
<line x1="488.2" y1="283.4" x2="488.2" y2="447.4" stroke="#7a7a7a" stroke-width="1.2" stroke-linecap="butt"/>
<line x1="488.2" y1="447.4" x2="721" y2="447.4" stroke="#555" stroke-width="1.1" stroke-linecap="butt"/>
<line x1="483.9" y1="447.4" x2="488.2" y2="447.4" stroke="#666" stroke-width="1" stroke-linecap="butt"/>
<text x="483" y="450.5" font-size="8.7" text-anchor="end" font-weight="bold" fill="#000000">0</text>
<line x1="486.2" y1="440.84" x2="488.2" y2="440.84" stroke="#777" stroke-width="1" stroke-linecap="butt"/>
<line x1="486.2" y1="434.28" x2="488.2" y2="434.28" stroke="#777" stroke-width="1" stroke-linecap="butt"/>
<line x1="486.2" y1="427.72" x2="488.2" y2="427.72" stroke="#777" stroke-width="1" stroke-linecap="butt"/>
<line x1="486.2" y1="421.16" x2="488.2" y2="421.16" stroke="#777" stroke-width="1" stroke-linecap="butt"/>
<line x1="483.9" y1="414.6" x2="488.2" y2="414.6" stroke="#666" stroke-width="1" stroke-linecap="butt"/>
<text x="483" y="417.7" font-size="8.7" text-anchor="end" font-weight="bold" fill="#000000">6</text>
<line x1="486.2" y1="408.04" x2="488.2" y2="408.04" stroke="#777" stroke-width="1" stroke-linecap="butt"/>
<line x1="486.2" y1="401.48" x2="488.2" y2="401.48" stroke="#777" stroke-width="1" stroke-linecap="butt"/>
<line x1="486.2" y1="394.92" x2="488.2" y2="394.92" stroke="#777" stroke-width="1" stroke-linecap="butt"/>
<line x1="486.2" y1="388.36" x2="488.2" y2="388.36" stroke="#777" stroke-width="1" stroke-linecap="butt"/>
<line x1="483.9" y1="381.8" x2="488.2" y2="381.8" stroke="#666" stroke-width="1" stroke-linecap="butt"/>
<text x="483" y="384.9" font-size="8.7" text-anchor="end" font-weight="bold" fill="#000000">12</text>
<line x1="486.2" y1="375.24" x2="488.2" y2="375.24" stroke="#777" stroke-width="1" stroke-linecap="butt"/>
<line x1="486.2" y1="368.68" x2="488.2" y2="368.68" stroke="#777" stroke-width="1" stroke-linecap="butt"/>
<line x1="486.2" y1="362.12" x2="488.2" y2="362.12" stroke="#777" stroke-width="1" stroke-linecap="butt"/>
<line x1="486.2" y1="355.56" x2="488.2" y2="355.56" stroke="#777" stroke-width="1" stroke-linecap="butt"/>
<line x1="483.9" y1="349" x2="488.2" y2="349" stroke="#666" stroke-width="1" stroke-linecap="butt"/>
<text x="483" y="352.1" font-size="8.7" text-anchor="end" font-weight="bold" fill="#000000">18</text>
<line x1="486.2" y1="342.44" x2="488.2" y2="342.44" stroke="#777" stroke-width="1" stroke-linecap="butt"/>
<line x1="486.2" y1="335.88" x2="488.2" y2="335.88" stroke="#777" stroke-width="1" stroke-linecap="butt"/>
<line x1="486.2" y1="329.32" x2="488.2" y2="329.32" stroke="#777" stroke-width="1" stroke-linecap="butt"/>
<line x1="486.2" y1="322.76" x2="488.2" y2="322.76" stroke="#777" stroke-width="1" stroke-linecap="butt"/>
<line x1="483.9" y1="316.2" x2="488.2" y2="316.2" stroke="#666" stroke-width="1" stroke-linecap="butt"/>
<text x="483" y="319.3" font-size="8.7" text-anchor="end" font-weight="bold" fill="#000000">24</text>
<line x1="486.2" y1="309.64" x2="488.2" y2="309.64" stroke="#777" stroke-width="1" stroke-linecap="butt"/>
<line x1="486.2" y1="303.08" x2="488.2" y2="303.08" stroke="#777" stroke-width="1" stroke-linecap="butt"/>
<line x1="486.2" y1="296.52" x2="488.2" y2="296.52" stroke="#777" stroke-width="1" stroke-linecap="butt"/>
<line x1="486.2" y1="289.96" x2="488.2" y2="289.96" stroke="#777" stroke-width="1" stroke-linecap="butt"/>
<line x1="483.9" y1="283.4" x2="488.2" y2="283.4" stroke="#666" stroke-width="1" stroke-linecap="butt"/>
<text x="483" y="286.5" font-size="8.7" text-anchor="end" font-weight="bold" fill="#000000">30</text>
<rect x="501" y="370.05" width="25.8" height="77.35" fill="#7d7d7d" stroke="#4a4a4a" stroke-width="0.8"/>
<line x1="513.9" y1="360.48" x2="513.9" y2="379.61" stroke="#080808" stroke-width="1.4" stroke-linecap="butt"/>
<line x1="507.7" y1="360.48" x2="520.1" y2="360.48" stroke="#080808" stroke-width="1.4" stroke-linecap="butt"/>
<line x1="507.7" y1="379.61" x2="520.1" y2="379.61" stroke="#080808" stroke-width="1.4" stroke-linecap="butt"/>
<line x1="513.9" y1="447.4" x2="513.9" y2="451.6" stroke="#666" stroke-width="1" stroke-linecap="butt"/>
<text x="513.9" y="462.1" font-size="9.7" text-anchor="middle" font-weight="bold" fill="#000000">Std-Q</text>
<rect x="532" y="365.4" width="25.8" height="82" fill="#7d7d7d" stroke="#4a4a4a" stroke-width="0.8"/>
<line x1="544.9" y1="364.31" x2="544.9" y2="366.49" stroke="#080808" stroke-width="1.4" stroke-linecap="butt"/>
<line x1="538.7" y1="364.31" x2="551.1" y2="364.31" stroke="#080808" stroke-width="1.4" stroke-linecap="butt"/>
<line x1="538.7" y1="366.49" x2="551.1" y2="366.49" stroke="#080808" stroke-width="1.4" stroke-linecap="butt"/>
<line x1="544.9" y1="447.4" x2="544.9" y2="451.6" stroke="#666" stroke-width="1" stroke-linecap="butt"/>
<text x="544.9" y="462.1" font-size="9.7" text-anchor="middle" font-weight="bold" fill="#000000">QR2</text>
<rect x="563" y="374.69" width="25.8" height="72.71" fill="#7d7d7d" stroke="#4a4a4a" stroke-width="0.8"/>
<line x1="575.9" y1="371.41" x2="575.9" y2="377.97" stroke="#080808" stroke-width="1.4" stroke-linecap="butt"/>
<line x1="569.7" y1="371.41" x2="582.1" y2="371.41" stroke="#080808" stroke-width="1.4" stroke-linecap="butt"/>
<line x1="569.7" y1="377.97" x2="582.1" y2="377.97" stroke="#080808" stroke-width="1.4" stroke-linecap="butt"/>
<line x1="575.9" y1="447.4" x2="575.9" y2="451.6" stroke="#666" stroke-width="1" stroke-linecap="butt"/>
<text x="575.9" y="462.1" font-size="9.7" text-anchor="middle" font-weight="bold" fill="#000000">DR2</text>
<rect x="619.3" y="318.39" width="25.8" height="129.01" fill="url(#dots)" stroke="#9a9a9a" stroke-width="0.9"/>
<line x1="632.2" y1="306.36" x2="632.2" y2="330.96" stroke="#080808" stroke-width="1.4" stroke-linecap="butt"/>
<line x1="626" y1="306.36" x2="638.4" y2="306.36" stroke="#080808" stroke-width="1.4" stroke-linecap="butt"/>
<line x1="626" y1="330.96" x2="638.4" y2="330.96" stroke="#080808" stroke-width="1.4" stroke-linecap="butt"/>
<line x1="632.2" y1="447.4" x2="632.2" y2="451.6" stroke="#666" stroke-width="1" stroke-linecap="butt"/>
<text x="632.2" y="462.1" font-size="9.7" text-anchor="middle" font-weight="bold" fill="#000000">Std-Q</text>
<rect x="650.4" y="331.51" width="25.8" height="115.89" fill="url(#dots)" stroke="#9a9a9a" stroke-width="0.9"/>
<line x1="663.3" y1="327.13" x2="663.3" y2="335.88" stroke="#080808" stroke-width="1.4" stroke-linecap="butt"/>
<line x1="657.1" y1="327.13" x2="669.5" y2="327.13" stroke="#080808" stroke-width="1.4" stroke-linecap="butt"/>
<line x1="657.1" y1="335.88" x2="669.5" y2="335.88" stroke="#080808" stroke-width="1.4" stroke-linecap="butt"/>
<line x1="663.3" y1="447.4" x2="663.3" y2="451.6" stroke="#666" stroke-width="1" stroke-linecap="butt"/>
<text x="663.3" y="462.1" font-size="9.7" text-anchor="middle" font-weight="bold" fill="#000000">QR2</text>
<rect x="681.6" y="344.08" width="25.8" height="103.32" fill="url(#dots)" stroke="#9a9a9a" stroke-width="0.9"/>
<line x1="694.5" y1="342.99" x2="694.5" y2="345.17" stroke="#080808" stroke-width="1.4" stroke-linecap="butt"/>
<line x1="688.3" y1="342.99" x2="700.7" y2="342.99" stroke="#080808" stroke-width="1.4" stroke-linecap="butt"/>
<line x1="688.3" y1="345.17" x2="700.7" y2="345.17" stroke="#080808" stroke-width="1.4" stroke-linecap="butt"/>
<line x1="694.5" y1="447.4" x2="694.5" y2="451.6" stroke="#666" stroke-width="1" stroke-linecap="butt"/>
<text x="694.5" y="462.1" font-size="9.7" text-anchor="middle" font-weight="bold" fill="#000000">DR2</text>
<rect x="502.2" y="285.8" width="20.1" height="7.9" fill="#6a6a6a" stroke="#4a4a4a" stroke-width="0.7"/>
<rect x="502.2" y="302.4" width="20.1" height="8.3" fill="url(#dots)" stroke="#9a9a9a" stroke-width="0.7"/>
<text x="529.8" y="293" font-size="9.5" text-anchor="start" fill="#000000">Donor 1</text>
<text x="529.8" y="309.7" font-size="9.5" text-anchor="start" fill="#000000">Donor 2</text>
<text x="455" y="272.2" font-size="14" text-anchor="start" font-weight="bold" fill="#111">D</text>
<text x="466.9" y="365.1" font-size="12.45" text-anchor="middle" fill="#000000" transform="rotate(-90 466.9 365.1)">%CD3+ GFP+ T-Cells</text>
<line x1="124.8" y1="526.4" x2="124.8" y2="745.8" stroke="#7a7a7a" stroke-width="1.3" stroke-linecap="butt"/>
<line x1="611.8" y1="526.4" x2="611.8" y2="745.8" stroke="#7a7a7a" stroke-width="1.3" stroke-linecap="butt"/>
<line x1="124.8" y1="745.8" x2="611.8" y2="745.8" stroke="#555" stroke-width="1.2" stroke-linecap="butt"/>
<line x1="119.3" y1="745.8" x2="124.8" y2="745.8" stroke="#666" stroke-width="1.1" stroke-linecap="butt"/>
<text x="117.4" y="749.8" font-size="10.9" text-anchor="end" font-weight="bold" fill="#000000">0</text>
<line x1="611.8" y1="745.8" x2="617.5" y2="745.8" stroke="#666" stroke-width="1.1" stroke-linecap="butt"/>
<text x="620.2" y="749.8" font-size="10.9" text-anchor="start" font-weight="bold" fill="#000000">0.0</text>
<line x1="122.2" y1="737.02" x2="124.8" y2="737.02" stroke="#777" stroke-width="1" stroke-linecap="butt"/>
<line x1="611.8" y1="737.02" x2="614.4" y2="737.02" stroke="#777" stroke-width="1" stroke-linecap="butt"/>
<line x1="122.2" y1="728.25" x2="124.8" y2="728.25" stroke="#777" stroke-width="1" stroke-linecap="butt"/>
<line x1="611.8" y1="728.25" x2="614.4" y2="728.25" stroke="#777" stroke-width="1" stroke-linecap="butt"/>
<line x1="122.2" y1="719.47" x2="124.8" y2="719.47" stroke="#777" stroke-width="1" stroke-linecap="butt"/>
<line x1="611.8" y1="719.47" x2="614.4" y2="719.47" stroke="#777" stroke-width="1" stroke-linecap="butt"/>
<line x1="122.2" y1="710.7" x2="124.8" y2="710.7" stroke="#777" stroke-width="1" stroke-linecap="butt"/>
<line x1="611.8" y1="710.7" x2="614.4" y2="710.7" stroke="#777" stroke-width="1" stroke-linecap="butt"/>
<line x1="119.3" y1="701.92" x2="124.8" y2="701.92" stroke="#666" stroke-width="1.1" stroke-linecap="butt"/>
<text x="117.4" y="705.92" font-size="10.9" text-anchor="end" font-weight="bold" fill="#000000">20</text>
<line x1="611.8" y1="701.92" x2="617.5" y2="701.92" stroke="#666" stroke-width="1.1" stroke-linecap="butt"/>
<text x="620.2" y="705.92" font-size="10.9" text-anchor="start" font-weight="bold" fill="#000000">0.5</text>
<line x1="122.2" y1="693.14" x2="124.8" y2="693.14" stroke="#777" stroke-width="1" stroke-linecap="butt"/>
<line x1="611.8" y1="693.14" x2="614.4" y2="693.14" stroke="#777" stroke-width="1" stroke-linecap="butt"/>
<line x1="122.2" y1="684.37" x2="124.8" y2="684.37" stroke="#777" stroke-width="1" stroke-linecap="butt"/>
<line x1="611.8" y1="684.37" x2="614.4" y2="684.37" stroke="#777" stroke-width="1" stroke-linecap="butt"/>
<line x1="122.2" y1="675.59" x2="124.8" y2="675.59" stroke="#777" stroke-width="1" stroke-linecap="butt"/>
<line x1="611.8" y1="675.59" x2="614.4" y2="675.59" stroke="#777" stroke-width="1" stroke-linecap="butt"/>
<line x1="122.2" y1="666.82" x2="124.8" y2="666.82" stroke="#777" stroke-width="1" stroke-linecap="butt"/>
<line x1="611.8" y1="666.82" x2="614.4" y2="666.82" stroke="#777" stroke-width="1" stroke-linecap="butt"/>
<line x1="119.3" y1="658.04" x2="124.8" y2="658.04" stroke="#666" stroke-width="1.1" stroke-linecap="butt"/>
<text x="117.4" y="662.04" font-size="10.9" text-anchor="end" font-weight="bold" fill="#000000">40</text>
<line x1="611.8" y1="658.04" x2="617.5" y2="658.04" stroke="#666" stroke-width="1.1" stroke-linecap="butt"/>
<text x="620.2" y="662.04" font-size="10.9" text-anchor="start" font-weight="bold" fill="#000000">1.0</text>
<line x1="122.2" y1="649.26" x2="124.8" y2="649.26" stroke="#777" stroke-width="1" stroke-linecap="butt"/>
<line x1="611.8" y1="649.26" x2="614.4" y2="649.26" stroke="#777" stroke-width="1" stroke-linecap="butt"/>
<line x1="122.2" y1="640.49" x2="124.8" y2="640.49" stroke="#777" stroke-width="1" stroke-linecap="butt"/>
<line x1="611.8" y1="640.49" x2="614.4" y2="640.49" stroke="#777" stroke-width="1" stroke-linecap="butt"/>
<line x1="122.2" y1="631.71" x2="124.8" y2="631.71" stroke="#777" stroke-width="1" stroke-linecap="butt"/>
<line x1="611.8" y1="631.71" x2="614.4" y2="631.71" stroke="#777" stroke-width="1" stroke-linecap="butt"/>
<line x1="122.2" y1="622.94" x2="124.8" y2="622.94" stroke="#777" stroke-width="1" stroke-linecap="butt"/>
<line x1="611.8" y1="622.94" x2="614.4" y2="622.94" stroke="#777" stroke-width="1" stroke-linecap="butt"/>
<line x1="119.3" y1="614.16" x2="124.8" y2="614.16" stroke="#666" stroke-width="1.1" stroke-linecap="butt"/>
<text x="117.4" y="618.16" font-size="10.9" text-anchor="end" font-weight="bold" fill="#000000">60</text>
<line x1="611.8" y1="614.16" x2="617.5" y2="614.16" stroke="#666" stroke-width="1.1" stroke-linecap="butt"/>
<text x="620.2" y="618.16" font-size="10.9" text-anchor="start" font-weight="bold" fill="#000000">1.5</text>
<line x1="122.2" y1="605.38" x2="124.8" y2="605.38" stroke="#777" stroke-width="1" stroke-linecap="butt"/>
<line x1="611.8" y1="605.38" x2="614.4" y2="605.38" stroke="#777" stroke-width="1" stroke-linecap="butt"/>
<line x1="122.2" y1="596.61" x2="124.8" y2="596.61" stroke="#777" stroke-width="1" stroke-linecap="butt"/>
<line x1="611.8" y1="596.61" x2="614.4" y2="596.61" stroke="#777" stroke-width="1" stroke-linecap="butt"/>
<line x1="122.2" y1="587.83" x2="124.8" y2="587.83" stroke="#777" stroke-width="1" stroke-linecap="butt"/>
<line x1="611.8" y1="587.83" x2="614.4" y2="587.83" stroke="#777" stroke-width="1" stroke-linecap="butt"/>
<line x1="122.2" y1="579.06" x2="124.8" y2="579.06" stroke="#777" stroke-width="1" stroke-linecap="butt"/>
<line x1="611.8" y1="579.06" x2="614.4" y2="579.06" stroke="#777" stroke-width="1" stroke-linecap="butt"/>
<line x1="119.3" y1="570.28" x2="124.8" y2="570.28" stroke="#666" stroke-width="1.1" stroke-linecap="butt"/>
<text x="117.4" y="574.28" font-size="10.9" text-anchor="end" font-weight="bold" fill="#000000">80</text>
<line x1="611.8" y1="570.28" x2="617.5" y2="570.28" stroke="#666" stroke-width="1.1" stroke-linecap="butt"/>
<text x="620.2" y="574.28" font-size="10.9" text-anchor="start" font-weight="bold" fill="#000000">2.0</text>
<line x1="122.2" y1="561.5" x2="124.8" y2="561.5" stroke="#777" stroke-width="1" stroke-linecap="butt"/>
<line x1="611.8" y1="561.5" x2="614.4" y2="561.5" stroke="#777" stroke-width="1" stroke-linecap="butt"/>
<line x1="122.2" y1="552.73" x2="124.8" y2="552.73" stroke="#777" stroke-width="1" stroke-linecap="butt"/>
<line x1="611.8" y1="552.73" x2="614.4" y2="552.73" stroke="#777" stroke-width="1" stroke-linecap="butt"/>
<line x1="122.2" y1="543.95" x2="124.8" y2="543.95" stroke="#777" stroke-width="1" stroke-linecap="butt"/>
<line x1="611.8" y1="543.95" x2="614.4" y2="543.95" stroke="#777" stroke-width="1" stroke-linecap="butt"/>
<line x1="122.2" y1="535.18" x2="124.8" y2="535.18" stroke="#777" stroke-width="1" stroke-linecap="butt"/>
<line x1="611.8" y1="535.18" x2="614.4" y2="535.18" stroke="#777" stroke-width="1" stroke-linecap="butt"/>
<line x1="119.3" y1="526.4" x2="124.8" y2="526.4" stroke="#666" stroke-width="1.1" stroke-linecap="butt"/>
<text x="117.4" y="530.4" font-size="10.9" text-anchor="end" font-weight="bold" fill="#000000">100</text>
<line x1="611.8" y1="526.4" x2="617.5" y2="526.4" stroke="#666" stroke-width="1.1" stroke-linecap="butt"/>
<text x="620.2" y="530.4" font-size="10.9" text-anchor="start" font-weight="bold" fill="#000000">2.5</text>
<rect x="140.95" y="704.77" width="30.9" height="41.03" fill="#740496" stroke="#4a0066" stroke-width="0.8"/>
<line x1="156.4" y1="690.95" x2="156.4" y2="717.72" stroke="#080808" stroke-width="1.7" stroke-linecap="butt"/>
<line x1="148.7" y1="690.95" x2="164.1" y2="690.95" stroke="#080808" stroke-width="1.7" stroke-linecap="butt"/>
<line x1="148.7" y1="717.72" x2="164.1" y2="717.72" stroke="#080808" stroke-width="1.7" stroke-linecap="butt"/>
<line x1="156.4" y1="745.8" x2="156.4" y2="751.5" stroke="#666" stroke-width="1.1" stroke-linecap="butt"/>
<text x="156.4" y="767.2" font-size="14.6" text-anchor="middle" font-weight="bold" fill="#000000">Std-Q</text>
<text x="156.4" y="777.6" font-size="11" text-anchor="middle" font-weight="bold" fill="#000000">(N=6)</text>
<rect x="187.85" y="586.08" width="30.9" height="159.72" fill="#740496" stroke="#4a0066" stroke-width="0.8"/>
<line x1="203.3" y1="580.37" x2="203.3" y2="591.78" stroke="#080808" stroke-width="1.7" stroke-linecap="butt"/>
<line x1="195.6" y1="580.37" x2="211" y2="580.37" stroke="#080808" stroke-width="1.7" stroke-linecap="butt"/>
<line x1="195.6" y1="591.78" x2="211" y2="591.78" stroke="#080808" stroke-width="1.7" stroke-linecap="butt"/>
<line x1="203.3" y1="745.8" x2="203.3" y2="751.5" stroke="#666" stroke-width="1.1" stroke-linecap="butt"/>
<text x="203.3" y="767.2" font-size="14.6" text-anchor="middle" font-weight="bold" fill="#000000">DR2</text>
<text x="203.3" y="777.6" font-size="11" text-anchor="middle" font-weight="bold" fill="#000000">(N=4)</text>
<rect x="266.35" y="706.31" width="30.9" height="39.49" fill="url(#hatchP)" stroke="#6a5a7a" stroke-width="0.9"/>
<line x1="281.8" y1="694.46" x2="281.8" y2="718.16" stroke="#080808" stroke-width="1.7" stroke-linecap="butt"/>
<line x1="274.1" y1="694.46" x2="289.5" y2="694.46" stroke="#080808" stroke-width="1.7" stroke-linecap="butt"/>
<line x1="274.1" y1="718.16" x2="289.5" y2="718.16" stroke="#080808" stroke-width="1.7" stroke-linecap="butt"/>
<line x1="281.8" y1="745.8" x2="281.8" y2="751.5" stroke="#666" stroke-width="1.1" stroke-linecap="butt"/>
<text x="281.8" y="767.2" font-size="14.6" text-anchor="middle" font-weight="bold" fill="#000000">Std-Q</text>
<text x="281.8" y="777.6" font-size="11" text-anchor="middle" font-weight="bold" fill="#000000">(N=4)</text>
<rect x="313.55" y="604.29" width="30.9" height="141.51" fill="url(#hatchP)" stroke="#6a5a7a" stroke-width="0.9"/>
<line x1="329" y1="583.66" x2="329" y2="624.91" stroke="#080808" stroke-width="1.7" stroke-linecap="butt"/>
<line x1="321.3" y1="583.66" x2="336.7" y2="583.66" stroke="#080808" stroke-width="1.7" stroke-linecap="butt"/>
<line x1="321.3" y1="624.91" x2="336.7" y2="624.91" stroke="#080808" stroke-width="1.7" stroke-linecap="butt"/>
<line x1="329" y1="745.8" x2="329" y2="751.5" stroke="#666" stroke-width="1.1" stroke-linecap="butt"/>
<text x="329" y="767.2" font-size="14.6" text-anchor="middle" font-weight="bold" fill="#000000">DR2</text>
<text x="329" y="777.6" font-size="11" text-anchor="middle" font-weight="bold" fill="#000000">(N=4)</text>
<rect x="391.85" y="715.3" width="30.9" height="30.5" fill="#636363" stroke="#3d3d3d" stroke-width="0.8"/>
<line x1="407.3" y1="712.45" x2="407.3" y2="718.38" stroke="#080808" stroke-width="1.7" stroke-linecap="butt"/>
<line x1="399.6" y1="712.45" x2="415" y2="712.45" stroke="#080808" stroke-width="1.7" stroke-linecap="butt"/>
<line x1="399.6" y1="718.38" x2="415" y2="718.38" stroke="#080808" stroke-width="1.7" stroke-linecap="butt"/>
<line x1="407.3" y1="745.8" x2="407.3" y2="751.5" stroke="#666" stroke-width="1.1" stroke-linecap="butt"/>
<text x="407.3" y="767.2" font-size="14.6" text-anchor="middle" font-weight="bold" fill="#000000">Std-Q</text>
<text x="407.3" y="777.6" font-size="11" text-anchor="middle" font-weight="bold" fill="#000000">(N=5)</text>
<rect x="439.25" y="699.29" width="30.9" height="46.51" fill="#636363" stroke="#3d3d3d" stroke-width="0.8"/>
<line x1="454.7" y1="679.98" x2="454.7" y2="717.72" stroke="#080808" stroke-width="1.7" stroke-linecap="butt"/>
<line x1="447" y1="679.98" x2="462.4" y2="679.98" stroke="#080808" stroke-width="1.7" stroke-linecap="butt"/>
<line x1="447" y1="717.72" x2="462.4" y2="717.72" stroke="#080808" stroke-width="1.7" stroke-linecap="butt"/>
<line x1="454.7" y1="745.8" x2="454.7" y2="751.5" stroke="#666" stroke-width="1.1" stroke-linecap="butt"/>
<text x="454.7" y="767.2" font-size="14.6" text-anchor="middle" font-weight="bold" fill="#000000">DR2</text>
<text x="454.7" y="777.6" font-size="11" text-anchor="middle" font-weight="bold" fill="#000000">(N=3)</text>
<rect x="517.65" y="573.35" width="30.9" height="172.45" fill="#d4d4d4" stroke="#858585" stroke-width="0.9"/>
<line x1="533.1" y1="562.6" x2="533.1" y2="584.1" stroke="#080808" stroke-width="1.7" stroke-linecap="butt"/>
<line x1="525.4" y1="562.6" x2="540.8" y2="562.6" stroke="#080808" stroke-width="1.7" stroke-linecap="butt"/>
<line x1="525.4" y1="584.1" x2="540.8" y2="584.1" stroke="#080808" stroke-width="1.7" stroke-linecap="butt"/>
<line x1="533.1" y1="745.8" x2="533.1" y2="751.5" stroke="#666" stroke-width="1.1" stroke-linecap="butt"/>
<text x="533.1" y="767.2" font-size="14.6" text-anchor="middle" font-weight="bold" fill="#000000">Std-Q</text>
<text x="533.1" y="777.6" font-size="11" text-anchor="middle" font-weight="bold" fill="#000000">(N=5)</text>
<rect x="564.55" y="573.35" width="30.9" height="172.45" fill="#d4d4d4" stroke="#858585" stroke-width="0.9"/>
<line x1="580" y1="549.88" x2="580" y2="596.61" stroke="#080808" stroke-width="1.7" stroke-linecap="butt"/>
<line x1="572.3" y1="549.88" x2="587.7" y2="549.88" stroke="#080808" stroke-width="1.7" stroke-linecap="butt"/>
<line x1="572.3" y1="596.61" x2="587.7" y2="596.61" stroke="#080808" stroke-width="1.7" stroke-linecap="butt"/>
<line x1="580" y1="745.8" x2="580" y2="751.5" stroke="#666" stroke-width="1.1" stroke-linecap="butt"/>
<text x="580" y="767.2" font-size="14.6" text-anchor="middle" font-weight="bold" fill="#000000">DR2</text>
<text x="580" y="777.6" font-size="11" text-anchor="middle" font-weight="bold" fill="#000000">(N=4)</text>
<rect x="134" y="526.2" width="15.8" height="7.7" fill="#740496" stroke="#4a0066" stroke-width="0.6"/>
<rect x="134" y="546.1" width="15.8" height="7.6" fill="#636363" stroke="#3d3d3d" stroke-width="0.6"/>
<rect x="280.2" y="526.1" width="15.8" height="7.5" fill="url(#hatchP)" stroke="#7a6a84" stroke-width="0.7"/>
<rect x="280.2" y="546.3" width="15.8" height="7.5" fill="#d4d4d4" stroke="#808080" stroke-width="0.8"/>
<text x="158.2" y="534.5" font-size="12.5" text-anchor="start" fill="#000000">Recovery (TU %)</text>
<text x="158.2" y="554.3" font-size="12.15" text-anchor="start" fill="#000000">Total DNA Clearance</text>
<text x="304.7" y="534.5" font-size="12.5" text-anchor="start" fill="#000000">Recovery (p24 %)</text>
<text x="304.7" y="554.3" font-size="12.15" text-anchor="start" fill="#000000">Total Protein Clearance</text>
<text x="3.4" y="511.2" font-size="13.6" text-anchor="start" font-weight="bold" fill="#111">E</text>
<text x="90.9" y="635.2" font-size="16.6" text-anchor="middle" fill="#000000" transform="rotate(-90 90.9 635.2)">Recovery (%)</text>
<text x="651.5" y="636" font-size="16.5" text-anchor="middle" fill="#000000" transform="rotate(90 651.5 636)">Log<tspan font-size="11.4" dy="3.4">10</tspan><tspan dy="-3.4"> Reduction</tspan></text>
</svg>
</body></html>
